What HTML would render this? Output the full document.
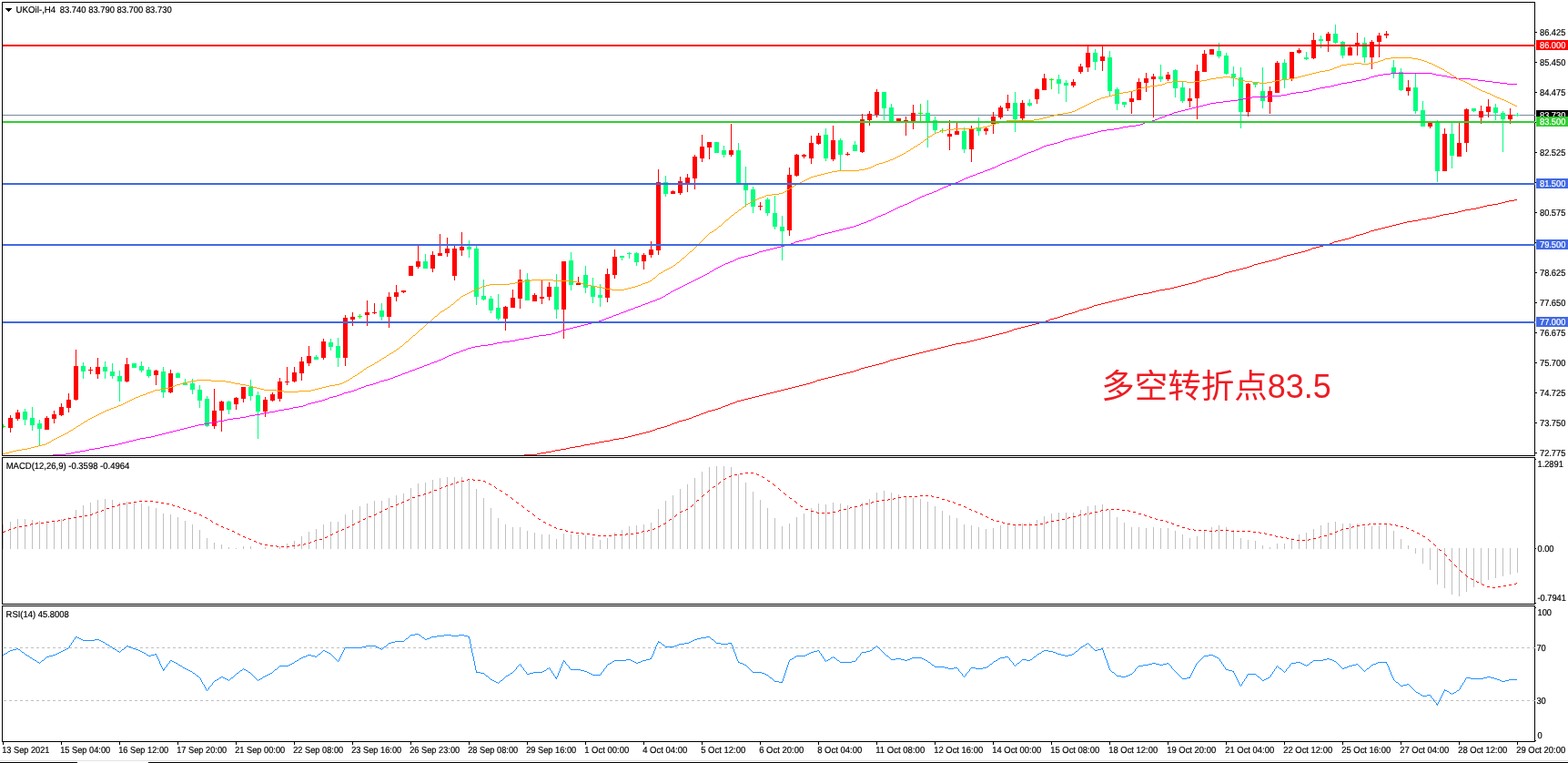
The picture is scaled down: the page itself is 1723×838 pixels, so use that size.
<!DOCTYPE html>
<html lang="zh-CN"><head><meta charset="utf-8"><title>UKOil-,H4</title>
<style>
html,body{margin:0;padding:0;background:#fff;}
body{width:1723px;height:838px;overflow:hidden;position:relative;}
svg{position:absolute;left:0;top:0;display:block;}
text{font-family:"Liberation Sans",sans-serif;font-size:10px;fill:#000;stroke:#000;stroke-width:0.2px;text-rendering:geometricPrecision;}
.w{fill:#fff;stroke:#fff;}
.note{text-rendering:auto;font-family:"Liberation Sans","Noto Sans CJK SC",sans-serif;font-size:36.5px;fill:#ed1c24;font-weight:400;stroke:none;}
</style></head><body>
<svg width="1723" height="838" viewBox="0 0 1723 838">
<rect x="0" y="0" width="1723" height="838" fill="#fff"/>
<defs><clipPath id="cm"><rect x="3" y="3" width="1683" height="497"/></clipPath><clipPath id="c2"><rect x="3" y="503" width="1683" height="160"/></clipPath><clipPath id="c3"><rect x="3" y="666" width="1683" height="148"/></clipPath></defs>
<g shape-rendering="crispEdges">
<rect x="3" y="126" width="1683" height="1" fill="#778899"/>
<g clip-path="url(#cm)">
<rect x="3" y="466" width="1" height="4" fill="#00ff00"/>
<rect x="1" y="468" width="5" height="1" fill="#00ff00"/>
<rect x="11" y="456" width="1" height="19" fill="#ff0000"/>
<rect x="9" y="459" width="5" height="11" fill="#ff0000"/>
<rect x="19" y="450" width="1" height="12" fill="#ff0000"/>
<rect x="17" y="453" width="5" height="7" fill="#ff0000"/>
<rect x="27" y="449" width="1" height="18" fill="#00ff7f"/>
<rect x="25" y="452" width="5" height="9" fill="#00ff7f"/>
<rect x="35" y="447" width="1" height="26" fill="#00ff7f"/>
<rect x="33" y="459" width="5" height="8" fill="#00ff7f"/>
<rect x="43" y="461" width="1" height="28" fill="#00ff7f"/>
<rect x="41" y="465" width="5" height="6" fill="#00ff7f"/>
<rect x="51" y="457" width="1" height="15" fill="#ff0000"/>
<rect x="49" y="459" width="5" height="13" fill="#ff0000"/>
<rect x="59" y="451" width="1" height="14" fill="#ff0000"/>
<rect x="57" y="455" width="5" height="5" fill="#ff0000"/>
<rect x="67" y="443" width="1" height="14" fill="#ff0000"/>
<rect x="65" y="447" width="5" height="9" fill="#ff0000"/>
<rect x="75" y="432" width="1" height="21" fill="#ff0000"/>
<rect x="73" y="439" width="5" height="9" fill="#ff0000"/>
<rect x="83" y="384" width="1" height="56" fill="#ff0000"/>
<rect x="81" y="402" width="5" height="37" fill="#ff0000"/>
<rect x="91" y="398" width="1" height="18" fill="#00ff7f"/>
<rect x="89" y="402" width="5" height="6" fill="#00ff7f"/>
<rect x="99" y="403" width="1" height="8" fill="#ff0000"/>
<rect x="97" y="406" width="5" height="1" fill="#ff0000"/>
<rect x="107" y="393" width="1" height="23" fill="#ff0000"/>
<rect x="105" y="403" width="5" height="8" fill="#ff0000"/>
<rect x="115" y="397" width="1" height="19" fill="#00ff7f"/>
<rect x="113" y="403" width="5" height="5" fill="#00ff7f"/>
<rect x="123" y="399" width="1" height="17" fill="#00ff7f"/>
<rect x="121" y="408" width="5" height="5" fill="#00ff7f"/>
<rect x="131" y="407" width="1" height="34" fill="#00ff7f"/>
<rect x="129" y="413" width="5" height="6" fill="#00ff7f"/>
<rect x="139" y="393" width="1" height="27" fill="#ff0000"/>
<rect x="137" y="400" width="5" height="19" fill="#ff0000"/>
<rect x="147" y="399" width="1" height="5" fill="#00ff7f"/>
<rect x="145" y="399" width="5" height="5" fill="#00ff7f"/>
<rect x="155" y="397" width="1" height="12" fill="#00ff7f"/>
<rect x="153" y="402" width="5" height="5" fill="#00ff7f"/>
<rect x="163" y="403" width="1" height="12" fill="#00ff7f"/>
<rect x="161" y="406" width="5" height="7" fill="#00ff7f"/>
<rect x="171" y="406" width="1" height="17" fill="#ff0000"/>
<rect x="169" y="407" width="5" height="5" fill="#ff0000"/>
<rect x="179" y="403" width="1" height="34" fill="#00ff7f"/>
<rect x="177" y="408" width="5" height="23" fill="#00ff7f"/>
<rect x="187" y="406" width="1" height="26" fill="#ff0000"/>
<rect x="185" y="410" width="5" height="21" fill="#ff0000"/>
<rect x="195" y="409" width="1" height="6" fill="#00ff7f"/>
<rect x="193" y="410" width="5" height="5" fill="#00ff7f"/>
<rect x="203" y="416" width="1" height="7" fill="#00ff7f"/>
<rect x="201" y="420" width="5" height="3" fill="#00ff7f"/>
<rect x="211" y="416" width="1" height="17" fill="#00ff7f"/>
<rect x="209" y="421" width="5" height="7" fill="#00ff7f"/>
<rect x="219" y="423" width="1" height="25" fill="#00ff7f"/>
<rect x="217" y="428" width="5" height="12" fill="#00ff7f"/>
<rect x="227" y="435" width="1" height="34" fill="#00ff7f"/>
<rect x="225" y="438" width="5" height="30" fill="#00ff7f"/>
<rect x="235" y="427" width="1" height="44" fill="#ff0000"/>
<rect x="233" y="451" width="5" height="17" fill="#ff0000"/>
<rect x="243" y="440" width="1" height="34" fill="#ff0000"/>
<rect x="241" y="441" width="5" height="10" fill="#ff0000"/>
<rect x="251" y="440" width="1" height="15" fill="#00ff7f"/>
<rect x="249" y="441" width="5" height="9" fill="#00ff7f"/>
<rect x="259" y="436" width="1" height="14" fill="#ff0000"/>
<rect x="257" y="437" width="5" height="7" fill="#ff0000"/>
<rect x="267" y="425" width="1" height="17" fill="#ff0000"/>
<rect x="265" y="425" width="5" height="13" fill="#ff0000"/>
<rect x="275" y="417" width="1" height="23" fill="#00ff7f"/>
<rect x="273" y="425" width="5" height="10" fill="#00ff7f"/>
<rect x="283" y="430" width="1" height="52" fill="#00ff7f"/>
<rect x="281" y="434" width="5" height="18" fill="#00ff7f"/>
<rect x="291" y="436" width="1" height="22" fill="#ff0000"/>
<rect x="289" y="439" width="5" height="13" fill="#ff0000"/>
<rect x="299" y="431" width="1" height="10" fill="#ff0000"/>
<rect x="297" y="433" width="5" height="7" fill="#ff0000"/>
<rect x="307" y="415" width="1" height="26" fill="#ff0000"/>
<rect x="305" y="419" width="5" height="19" fill="#ff0000"/>
<rect x="315" y="403" width="1" height="20" fill="#ff0000"/>
<rect x="313" y="419" width="5" height="1" fill="#ff0000"/>
<rect x="323" y="403" width="1" height="17" fill="#ff0000"/>
<rect x="321" y="409" width="5" height="10" fill="#ff0000"/>
<rect x="331" y="392" width="1" height="26" fill="#ff0000"/>
<rect x="329" y="397" width="5" height="13" fill="#ff0000"/>
<rect x="339" y="380" width="1" height="22" fill="#ff0000"/>
<rect x="337" y="391" width="5" height="8" fill="#ff0000"/>
<rect x="347" y="390" width="1" height="5" fill="#00ff7f"/>
<rect x="345" y="392" width="5" height="3" fill="#00ff7f"/>
<rect x="355" y="372" width="1" height="23" fill="#ff0000"/>
<rect x="353" y="375" width="5" height="18" fill="#ff0000"/>
<rect x="363" y="372" width="1" height="13" fill="#00ff7f"/>
<rect x="361" y="376" width="5" height="5" fill="#00ff7f"/>
<rect x="371" y="371" width="1" height="32" fill="#00ff7f"/>
<rect x="369" y="380" width="5" height="13" fill="#00ff7f"/>
<rect x="379" y="346" width="1" height="56" fill="#ff0000"/>
<rect x="377" y="349" width="5" height="44" fill="#ff0000"/>
<rect x="387" y="343" width="1" height="15" fill="#ff0000"/>
<rect x="385" y="348" width="5" height="3" fill="#ff0000"/>
<rect x="395" y="345" width="1" height="5" fill="#00ff00"/>
<rect x="393" y="347" width="5" height="1" fill="#00ff00"/>
<rect x="403" y="330" width="1" height="28" fill="#ff0000"/>
<rect x="401" y="343" width="5" height="3" fill="#ff0000"/>
<rect x="411" y="333" width="1" height="12" fill="#ff0000"/>
<rect x="409" y="343" width="5" height="1" fill="#ff0000"/>
<rect x="419" y="333" width="1" height="19" fill="#00ff7f"/>
<rect x="417" y="341" width="5" height="7" fill="#00ff7f"/>
<rect x="427" y="321" width="1" height="39" fill="#ff0000"/>
<rect x="425" y="326" width="5" height="22" fill="#ff0000"/>
<rect x="435" y="313" width="1" height="18" fill="#ff0000"/>
<rect x="433" y="321" width="5" height="5" fill="#ff0000"/>
<rect x="443" y="319" width="1" height="3" fill="#ff0000"/>
<rect x="441" y="319" width="5" height="2" fill="#ff0000"/>
<rect x="451" y="292" width="1" height="11" fill="#ff0000"/>
<rect x="449" y="292" width="5" height="11" fill="#ff0000"/>
<rect x="459" y="270" width="1" height="25" fill="#ff0000"/>
<rect x="457" y="287" width="5" height="6" fill="#ff0000"/>
<rect x="467" y="279" width="1" height="16" fill="#00ff7f"/>
<rect x="465" y="287" width="5" height="8" fill="#00ff7f"/>
<rect x="475" y="276" width="1" height="23" fill="#ff0000"/>
<rect x="473" y="280" width="5" height="15" fill="#ff0000"/>
<rect x="483" y="257" width="1" height="24" fill="#ff0000"/>
<rect x="481" y="278" width="5" height="3" fill="#ff0000"/>
<rect x="491" y="261" width="1" height="21" fill="#ff0000"/>
<rect x="489" y="273" width="5" height="5" fill="#ff0000"/>
<rect x="499" y="270" width="1" height="38" fill="#ff0000"/>
<rect x="497" y="273" width="5" height="30" fill="#ff0000"/>
<rect x="507" y="255" width="1" height="26" fill="#ff0000"/>
<rect x="505" y="271" width="5" height="4" fill="#ff0000"/>
<rect x="515" y="264" width="1" height="19" fill="#00ff7f"/>
<rect x="513" y="271" width="5" height="3" fill="#00ff7f"/>
<rect x="523" y="270" width="1" height="65" fill="#00ff7f"/>
<rect x="521" y="273" width="5" height="53" fill="#00ff7f"/>
<rect x="531" y="307" width="1" height="23" fill="#00ff7f"/>
<rect x="529" y="325" width="5" height="4" fill="#00ff7f"/>
<rect x="539" y="325" width="1" height="19" fill="#00ff7f"/>
<rect x="537" y="328" width="5" height="13" fill="#00ff7f"/>
<rect x="547" y="323" width="1" height="29" fill="#00ff7f"/>
<rect x="545" y="338" width="5" height="12" fill="#00ff7f"/>
<rect x="555" y="336" width="1" height="27" fill="#ff0000"/>
<rect x="553" y="337" width="5" height="13" fill="#ff0000"/>
<rect x="563" y="318" width="1" height="20" fill="#ff0000"/>
<rect x="561" y="327" width="5" height="11" fill="#ff0000"/>
<rect x="571" y="296" width="1" height="43" fill="#ff0000"/>
<rect x="569" y="307" width="5" height="21" fill="#ff0000"/>
<rect x="579" y="300" width="1" height="30" fill="#00ff7f"/>
<rect x="577" y="307" width="5" height="23" fill="#00ff7f"/>
<rect x="587" y="322" width="1" height="9" fill="#ff0000"/>
<rect x="585" y="324" width="5" height="7" fill="#ff0000"/>
<rect x="595" y="308" width="1" height="26" fill="#ff0000"/>
<rect x="593" y="326" width="5" height="2" fill="#ff0000"/>
<rect x="603" y="310" width="1" height="20" fill="#ff0000"/>
<rect x="601" y="315" width="5" height="11" fill="#ff0000"/>
<rect x="611" y="301" width="1" height="49" fill="#00ff7f"/>
<rect x="609" y="315" width="5" height="25" fill="#00ff7f"/>
<rect x="619" y="287" width="1" height="85" fill="#ff0000"/>
<rect x="617" y="287" width="5" height="53" fill="#ff0000"/>
<rect x="627" y="277" width="1" height="42" fill="#00ff7f"/>
<rect x="625" y="286" width="5" height="27" fill="#00ff7f"/>
<rect x="635" y="304" width="1" height="9" fill="#ff0000"/>
<rect x="633" y="311" width="5" height="2" fill="#ff0000"/>
<rect x="643" y="292" width="1" height="30" fill="#00ff7f"/>
<rect x="641" y="302" width="5" height="14" fill="#00ff7f"/>
<rect x="651" y="305" width="1" height="28" fill="#00ff7f"/>
<rect x="649" y="314" width="5" height="12" fill="#00ff7f"/>
<rect x="659" y="312" width="1" height="25" fill="#00ff7f"/>
<rect x="657" y="324" width="5" height="3" fill="#00ff7f"/>
<rect x="667" y="295" width="1" height="37" fill="#ff0000"/>
<rect x="665" y="301" width="5" height="26" fill="#ff0000"/>
<rect x="675" y="274" width="1" height="32" fill="#ff0000"/>
<rect x="673" y="282" width="5" height="20" fill="#ff0000"/>
<rect x="683" y="281" width="1" height="5" fill="#00ff7f"/>
<rect x="681" y="281" width="5" height="2" fill="#00ff7f"/>
<rect x="691" y="277" width="1" height="7" fill="#00ff7f"/>
<rect x="689" y="278" width="5" height="1" fill="#00ff7f"/>
<rect x="699" y="277" width="1" height="15" fill="#00ff7f"/>
<rect x="697" y="278" width="5" height="10" fill="#00ff7f"/>
<rect x="707" y="278" width="1" height="18" fill="#ff0000"/>
<rect x="705" y="280" width="5" height="7" fill="#ff0000"/>
<rect x="715" y="265" width="1" height="18" fill="#ff0000"/>
<rect x="713" y="274" width="5" height="6" fill="#ff0000"/>
<rect x="723" y="186" width="1" height="94" fill="#ff0000"/>
<rect x="721" y="200" width="5" height="75" fill="#ff0000"/>
<rect x="731" y="193" width="1" height="23" fill="#00ff7f"/>
<rect x="729" y="200" width="5" height="13" fill="#00ff7f"/>
<rect x="739" y="209" width="1" height="4" fill="#ff0000"/>
<rect x="737" y="210" width="5" height="3" fill="#ff0000"/>
<rect x="747" y="194" width="1" height="20" fill="#ff0000"/>
<rect x="745" y="199" width="5" height="13" fill="#ff0000"/>
<rect x="755" y="191" width="1" height="20" fill="#ff0000"/>
<rect x="753" y="195" width="5" height="6" fill="#ff0000"/>
<rect x="763" y="170" width="1" height="38" fill="#ff0000"/>
<rect x="761" y="172" width="5" height="24" fill="#ff0000"/>
<rect x="771" y="148" width="1" height="30" fill="#ff0000"/>
<rect x="769" y="161" width="5" height="13" fill="#ff0000"/>
<rect x="779" y="156" width="1" height="19" fill="#ff0000"/>
<rect x="777" y="156" width="5" height="6" fill="#ff0000"/>
<rect x="787" y="156" width="1" height="12" fill="#00ff7f"/>
<rect x="785" y="156" width="5" height="12" fill="#00ff7f"/>
<rect x="795" y="160" width="1" height="13" fill="#00ff7f"/>
<rect x="793" y="165" width="5" height="5" fill="#00ff7f"/>
<rect x="803" y="136" width="1" height="36" fill="#ff0000"/>
<rect x="801" y="165" width="5" height="5" fill="#ff0000"/>
<rect x="811" y="157" width="1" height="44" fill="#00ff7f"/>
<rect x="809" y="165" width="5" height="36" fill="#00ff7f"/>
<rect x="819" y="183" width="1" height="44" fill="#00ff7f"/>
<rect x="817" y="203" width="5" height="6" fill="#00ff7f"/>
<rect x="827" y="205" width="1" height="29" fill="#00ff7f"/>
<rect x="825" y="208" width="5" height="19" fill="#00ff7f"/>
<rect x="835" y="222" width="1" height="9" fill="#ff0000"/>
<rect x="833" y="226" width="5" height="1" fill="#ff0000"/>
<rect x="843" y="217" width="1" height="20" fill="#00ff7f"/>
<rect x="841" y="219" width="5" height="15" fill="#00ff7f"/>
<rect x="851" y="215" width="1" height="37" fill="#00ff7f"/>
<rect x="849" y="234" width="5" height="15" fill="#00ff7f"/>
<rect x="859" y="237" width="1" height="49" fill="#00ff7f"/>
<rect x="857" y="249" width="5" height="5" fill="#00ff7f"/>
<rect x="867" y="184" width="1" height="75" fill="#ff0000"/>
<rect x="865" y="192" width="5" height="61" fill="#ff0000"/>
<rect x="875" y="169" width="1" height="25" fill="#ff0000"/>
<rect x="873" y="170" width="5" height="23" fill="#ff0000"/>
<rect x="883" y="169" width="1" height="5" fill="#ff0000"/>
<rect x="881" y="170" width="5" height="2" fill="#ff0000"/>
<rect x="891" y="149" width="1" height="31" fill="#ff0000"/>
<rect x="889" y="157" width="5" height="17" fill="#ff0000"/>
<rect x="899" y="146" width="1" height="13" fill="#ff0000"/>
<rect x="897" y="149" width="5" height="9" fill="#ff0000"/>
<rect x="907" y="141" width="1" height="36" fill="#00ff7f"/>
<rect x="905" y="148" width="5" height="26" fill="#00ff7f"/>
<rect x="915" y="138" width="1" height="39" fill="#ff0000"/>
<rect x="913" y="154" width="5" height="21" fill="#ff0000"/>
<rect x="923" y="152" width="1" height="35" fill="#00ff7f"/>
<rect x="921" y="154" width="5" height="16" fill="#00ff7f"/>
<rect x="931" y="167" width="1" height="4" fill="#ff0000"/>
<rect x="929" y="169" width="5" height="1" fill="#ff0000"/>
<rect x="939" y="155" width="1" height="11" fill="#00ff7f"/>
<rect x="937" y="159" width="5" height="7" fill="#00ff7f"/>
<rect x="947" y="125" width="1" height="43" fill="#ff0000"/>
<rect x="945" y="131" width="5" height="36" fill="#ff0000"/>
<rect x="955" y="122" width="1" height="16" fill="#ff0000"/>
<rect x="953" y="125" width="5" height="7" fill="#ff0000"/>
<rect x="963" y="98" width="1" height="31" fill="#ff0000"/>
<rect x="961" y="101" width="5" height="25" fill="#ff0000"/>
<rect x="971" y="101" width="1" height="31" fill="#00ff7f"/>
<rect x="969" y="101" width="5" height="18" fill="#00ff7f"/>
<rect x="979" y="114" width="1" height="19" fill="#00ff7f"/>
<rect x="977" y="118" width="5" height="15" fill="#00ff7f"/>
<rect x="987" y="130" width="1" height="3" fill="#ff0000"/>
<rect x="985" y="130" width="5" height="3" fill="#ff0000"/>
<rect x="995" y="128" width="1" height="21" fill="#ff0000"/>
<rect x="993" y="132" width="5" height="1" fill="#ff0000"/>
<rect x="1003" y="115" width="1" height="27" fill="#ff0000"/>
<rect x="1001" y="124" width="5" height="9" fill="#ff0000"/>
<rect x="1011" y="114" width="1" height="19" fill="#00ff00"/>
<rect x="1009" y="124" width="5" height="1" fill="#00ff00"/>
<rect x="1019" y="110" width="1" height="52" fill="#00ff7f"/>
<rect x="1017" y="124" width="5" height="9" fill="#00ff7f"/>
<rect x="1027" y="128" width="1" height="18" fill="#00ff7f"/>
<rect x="1025" y="132" width="5" height="11" fill="#00ff7f"/>
<rect x="1035" y="141" width="1" height="5" fill="#00ff00"/>
<rect x="1033" y="143" width="5" height="1" fill="#00ff00"/>
<rect x="1043" y="132" width="1" height="33" fill="#ff0000"/>
<rect x="1041" y="147" width="5" height="3" fill="#ff0000"/>
<rect x="1051" y="135" width="1" height="13" fill="#ff0000"/>
<rect x="1049" y="144" width="5" height="4" fill="#ff0000"/>
<rect x="1059" y="140" width="1" height="28" fill="#00ff7f"/>
<rect x="1057" y="144" width="5" height="20" fill="#00ff7f"/>
<rect x="1067" y="138" width="1" height="40" fill="#ff0000"/>
<rect x="1065" y="141" width="5" height="23" fill="#ff0000"/>
<rect x="1075" y="129" width="1" height="20" fill="#00ff7f"/>
<rect x="1073" y="140" width="5" height="4" fill="#00ff7f"/>
<rect x="1083" y="140" width="1" height="8" fill="#ff0000"/>
<rect x="1081" y="141" width="5" height="3" fill="#ff0000"/>
<rect x="1091" y="123" width="1" height="24" fill="#ff0000"/>
<rect x="1089" y="128" width="5" height="8" fill="#ff0000"/>
<rect x="1099" y="116" width="1" height="15" fill="#ff0000"/>
<rect x="1097" y="118" width="5" height="11" fill="#ff0000"/>
<rect x="1107" y="104" width="1" height="18" fill="#ff0000"/>
<rect x="1105" y="113" width="5" height="6" fill="#ff0000"/>
<rect x="1115" y="101" width="1" height="44" fill="#00ff7f"/>
<rect x="1113" y="113" width="5" height="18" fill="#00ff7f"/>
<rect x="1123" y="110" width="1" height="23" fill="#ff0000"/>
<rect x="1121" y="113" width="5" height="17" fill="#ff0000"/>
<rect x="1131" y="109" width="1" height="8" fill="#00ff7f"/>
<rect x="1129" y="113" width="5" height="3" fill="#00ff7f"/>
<rect x="1139" y="97" width="1" height="17" fill="#ff0000"/>
<rect x="1137" y="98" width="5" height="11" fill="#ff0000"/>
<rect x="1147" y="81" width="1" height="18" fill="#ff0000"/>
<rect x="1145" y="86" width="5" height="13" fill="#ff0000"/>
<rect x="1155" y="86" width="1" height="12" fill="#00ff00"/>
<rect x="1153" y="87" width="5" height="1" fill="#00ff00"/>
<rect x="1163" y="82" width="1" height="21" fill="#00ff7f"/>
<rect x="1161" y="87" width="5" height="5" fill="#00ff7f"/>
<rect x="1171" y="88" width="1" height="24" fill="#00ff7f"/>
<rect x="1169" y="91" width="5" height="3" fill="#00ff7f"/>
<rect x="1179" y="87" width="1" height="9" fill="#ff0000"/>
<rect x="1177" y="90" width="5" height="4" fill="#ff0000"/>
<rect x="1187" y="70" width="1" height="11" fill="#ff0000"/>
<rect x="1185" y="73" width="5" height="6" fill="#ff0000"/>
<rect x="1195" y="51" width="1" height="28" fill="#ff0000"/>
<rect x="1193" y="58" width="5" height="16" fill="#ff0000"/>
<rect x="1203" y="54" width="1" height="23" fill="#00ff7f"/>
<rect x="1201" y="58" width="5" height="10" fill="#00ff7f"/>
<rect x="1211" y="51" width="1" height="27" fill="#ff0000"/>
<rect x="1209" y="62" width="5" height="5" fill="#ff0000"/>
<rect x="1219" y="56" width="1" height="49" fill="#00ff7f"/>
<rect x="1217" y="63" width="5" height="37" fill="#00ff7f"/>
<rect x="1227" y="96" width="1" height="25" fill="#00ff7f"/>
<rect x="1225" y="98" width="5" height="16" fill="#00ff7f"/>
<rect x="1235" y="112" width="1" height="6" fill="#00ff7f"/>
<rect x="1233" y="112" width="5" height="3" fill="#00ff7f"/>
<rect x="1243" y="100" width="1" height="25" fill="#ff0000"/>
<rect x="1241" y="108" width="5" height="4" fill="#ff0000"/>
<rect x="1251" y="86" width="1" height="24" fill="#ff0000"/>
<rect x="1249" y="90" width="5" height="20" fill="#ff0000"/>
<rect x="1259" y="80" width="1" height="21" fill="#ff0000"/>
<rect x="1257" y="86" width="5" height="5" fill="#ff0000"/>
<rect x="1267" y="81" width="1" height="48" fill="#ff0000"/>
<rect x="1265" y="84" width="5" height="3" fill="#ff0000"/>
<rect x="1275" y="71" width="1" height="19" fill="#00ff7f"/>
<rect x="1273" y="84" width="5" height="3" fill="#00ff7f"/>
<rect x="1283" y="79" width="1" height="10" fill="#ff0000"/>
<rect x="1281" y="82" width="5" height="5" fill="#ff0000"/>
<rect x="1291" y="76" width="1" height="31" fill="#00ff7f"/>
<rect x="1289" y="77" width="5" height="20" fill="#00ff7f"/>
<rect x="1299" y="90" width="1" height="23" fill="#00ff7f"/>
<rect x="1297" y="96" width="5" height="15" fill="#00ff7f"/>
<rect x="1307" y="97" width="1" height="21" fill="#ff0000"/>
<rect x="1305" y="108" width="5" height="3" fill="#ff0000"/>
<rect x="1315" y="71" width="1" height="60" fill="#ff0000"/>
<rect x="1313" y="78" width="5" height="30" fill="#ff0000"/>
<rect x="1323" y="55" width="1" height="24" fill="#ff0000"/>
<rect x="1321" y="59" width="5" height="20" fill="#ff0000"/>
<rect x="1331" y="54" width="1" height="6" fill="#ff0000"/>
<rect x="1329" y="54" width="5" height="6" fill="#ff0000"/>
<rect x="1339" y="47" width="1" height="17" fill="#00ff7f"/>
<rect x="1337" y="56" width="5" height="6" fill="#00ff7f"/>
<rect x="1347" y="58" width="1" height="24" fill="#00ff7f"/>
<rect x="1345" y="61" width="5" height="20" fill="#00ff7f"/>
<rect x="1355" y="73" width="1" height="22" fill="#00ff7f"/>
<rect x="1353" y="81" width="5" height="4" fill="#00ff7f"/>
<rect x="1363" y="74" width="1" height="67" fill="#00ff7f"/>
<rect x="1361" y="85" width="5" height="38" fill="#00ff7f"/>
<rect x="1371" y="91" width="1" height="37" fill="#ff0000"/>
<rect x="1369" y="92" width="5" height="31" fill="#ff0000"/>
<rect x="1379" y="91" width="1" height="5" fill="#00ff7f"/>
<rect x="1377" y="91" width="5" height="2" fill="#00ff7f"/>
<rect x="1387" y="74" width="1" height="45" fill="#00ff7f"/>
<rect x="1385" y="100" width="5" height="11" fill="#00ff7f"/>
<rect x="1395" y="95" width="1" height="30" fill="#ff0000"/>
<rect x="1393" y="100" width="5" height="12" fill="#ff0000"/>
<rect x="1403" y="67" width="1" height="35" fill="#ff0000"/>
<rect x="1401" y="69" width="5" height="33" fill="#ff0000"/>
<rect x="1411" y="65" width="1" height="32" fill="#00ff7f"/>
<rect x="1409" y="69" width="5" height="18" fill="#00ff7f"/>
<rect x="1419" y="57" width="1" height="32" fill="#ff0000"/>
<rect x="1417" y="57" width="5" height="29" fill="#ff0000"/>
<rect x="1427" y="53" width="1" height="6" fill="#ff0000"/>
<rect x="1425" y="55" width="5" height="3" fill="#ff0000"/>
<rect x="1435" y="57" width="1" height="9" fill="#00ff7f"/>
<rect x="1433" y="63" width="5" height="2" fill="#00ff7f"/>
<rect x="1443" y="36" width="1" height="29" fill="#ff0000"/>
<rect x="1441" y="44" width="5" height="20" fill="#ff0000"/>
<rect x="1451" y="39" width="1" height="14" fill="#00ff7f"/>
<rect x="1449" y="43" width="5" height="2" fill="#00ff7f"/>
<rect x="1459" y="35" width="1" height="22" fill="#ff0000"/>
<rect x="1457" y="37" width="5" height="8" fill="#ff0000"/>
<rect x="1467" y="27" width="1" height="21" fill="#00ff7f"/>
<rect x="1465" y="37" width="5" height="10" fill="#00ff7f"/>
<rect x="1475" y="45" width="1" height="19" fill="#00ff7f"/>
<rect x="1473" y="46" width="5" height="15" fill="#00ff7f"/>
<rect x="1483" y="51" width="1" height="10" fill="#ff0000"/>
<rect x="1481" y="52" width="5" height="9" fill="#ff0000"/>
<rect x="1491" y="36" width="1" height="25" fill="#ff0000"/>
<rect x="1489" y="47" width="5" height="3" fill="#ff0000"/>
<rect x="1499" y="41" width="1" height="28" fill="#00ff7f"/>
<rect x="1497" y="47" width="5" height="16" fill="#00ff7f"/>
<rect x="1507" y="44" width="1" height="32" fill="#ff0000"/>
<rect x="1505" y="46" width="5" height="17" fill="#ff0000"/>
<rect x="1515" y="36" width="1" height="27" fill="#ff0000"/>
<rect x="1513" y="39" width="5" height="7" fill="#ff0000"/>
<rect x="1523" y="34" width="1" height="8" fill="#ff0000"/>
<rect x="1521" y="37" width="5" height="2" fill="#ff0000"/>
<rect x="1531" y="66" width="1" height="20" fill="#00ff7f"/>
<rect x="1529" y="74" width="5" height="6" fill="#00ff7f"/>
<rect x="1539" y="75" width="1" height="25" fill="#00ff7f"/>
<rect x="1537" y="79" width="5" height="20" fill="#00ff7f"/>
<rect x="1547" y="88" width="1" height="17" fill="#ff0000"/>
<rect x="1545" y="96" width="5" height="4" fill="#ff0000"/>
<rect x="1555" y="81" width="1" height="44" fill="#00ff7f"/>
<rect x="1553" y="96" width="5" height="26" fill="#00ff7f"/>
<rect x="1563" y="111" width="1" height="28" fill="#00ff7f"/>
<rect x="1561" y="121" width="5" height="18" fill="#00ff7f"/>
<rect x="1571" y="135" width="1" height="6" fill="#ff0000"/>
<rect x="1569" y="135" width="5" height="4" fill="#ff0000"/>
<rect x="1579" y="132" width="1" height="68" fill="#00ff7f"/>
<rect x="1577" y="135" width="5" height="53" fill="#00ff7f"/>
<rect x="1587" y="141" width="1" height="47" fill="#ff0000"/>
<rect x="1585" y="147" width="5" height="41" fill="#ff0000"/>
<rect x="1595" y="135" width="1" height="50" fill="#00ff7f"/>
<rect x="1593" y="147" width="5" height="24" fill="#00ff7f"/>
<rect x="1603" y="135" width="1" height="37" fill="#ff0000"/>
<rect x="1601" y="157" width="5" height="15" fill="#ff0000"/>
<rect x="1611" y="119" width="1" height="48" fill="#ff0000"/>
<rect x="1609" y="120" width="5" height="37" fill="#ff0000"/>
<rect x="1619" y="119" width="1" height="4" fill="#00ff7f"/>
<rect x="1617" y="119" width="5" height="3" fill="#00ff7f"/>
<rect x="1627" y="116" width="1" height="20" fill="#ff0000"/>
<rect x="1625" y="122" width="5" height="7" fill="#ff0000"/>
<rect x="1635" y="109" width="1" height="20" fill="#ff0000"/>
<rect x="1633" y="117" width="5" height="6" fill="#ff0000"/>
<rect x="1643" y="114" width="1" height="18" fill="#00ff7f"/>
<rect x="1641" y="118" width="5" height="6" fill="#00ff7f"/>
<rect x="1651" y="122" width="1" height="45" fill="#00ff7f"/>
<rect x="1649" y="124" width="5" height="7" fill="#00ff7f"/>
<rect x="1659" y="119" width="1" height="17" fill="#ff0000"/>
<rect x="1657" y="126" width="5" height="5" fill="#ff0000"/>
<rect x="1667" y="124" width="1" height="4" fill="#00ff7f"/>
<rect x="1665" y="126" width="5" height="1" fill="#00ff7f"/>
</g>
<g clip-path="url(#cm)">
<path d="M563 501.5h5M568 500.5h8M576 499.5h14M590 498.5h4M594 497.5h6M600 496.5h6M606 495.5h4M610 494.5h6M616 493.5h6M622 492.5h4M626 491.5h6M632 490.5h6M638 489.5h4M642 488.5h6M648 487.5h6M654 486.5h4M658 485.5h6M664 484.5h6M670 483.5h4M674 482.5h6M680 481.5h6M686 480.5h4M690 479.5h4M694 478.5h4M698 477.5h4M702 476.5h4M706 475.5h4M710 474.5h4M714 473.5h3M717 472.5h3M720 471.5h2M722 470.5h4M726 469.5h4M730 468.5h3M733 467.5h3M736 466.5h2M738 465.5h3M741 464.5h3M744 463.5h2M746 462.5h4M750 461.5h4M754 460.5h3M757 459.5h3M760 458.5h2M762 457.5h3M765 456.5h3M768 455.5h2M770 454.5h3M773 453.5h3M776 452.5h2M778 451.5h4M782 450.5h4M786 449.5h3M789 448.5h3M792 447.5h2M794 446.5h3M797 445.5h3M800 444.5h2M802 443.5h3M805 442.5h3M808 441.5h2M810 440.5h4M814 439.5h4M818 438.5h4M822 437.5h4M826 436.5h4M830 435.5h4M834 434.5h4M838 433.5h4M842 432.5h4M846 431.5h4M850 430.5h4M854 429.5h4M858 428.5h4M862 427.5h4M866 426.5h4M870 425.5h4M874 424.5h4M878 423.5h4M882 422.5h4M886 421.5h4M890 420.5h3M893 419.5h3M896 418.5h2M898 417.5h4M902 416.5h4M906 415.5h4M910 414.5h4M914 413.5h4M918 412.5h4M922 411.5h4M926 410.5h4M930 409.5h4M934 408.5h4M938 407.5h3M941 406.5h3M944 405.5h2M946 404.5h4M950 403.5h4M954 402.5h4M958 401.5h4M962 400.5h4M966 399.5h4M970 398.5h3M973 397.5h3M976 396.5h2M978 395.5h4M982 394.5h4M986 393.5h4M990 392.5h4M994 391.5h4M998 390.5h4M1002 389.5h4M1006 388.5h4M1010 387.5h4M1014 386.5h4M1018 385.5h4M1022 384.5h4M1026 383.5h4M1030 382.5h4M1034 381.5h4M1038 380.5h4M1042 379.5h4M1046 378.5h4M1050 377.5h6M1056 376.5h6M1062 375.5h4M1066 374.5h4M1070 373.5h4M1074 372.5h4M1078 371.5h4M1082 370.5h4M1086 369.5h4M1090 368.5h4M1094 367.5h4M1098 366.5h4M1102 365.5h4M1106 364.5h3M1109 363.5h3M1112 362.5h2M1114 361.5h4M1118 360.5h4M1122 359.5h4M1126 358.5h4M1130 357.5h4M1134 356.5h4M1138 355.5h4M1142 354.5h4M1146 353.5h3M1149 352.5h3M1152 351.5h2M1154 350.5h4M1158 349.5h4M1162 348.5h3M1165 347.5h3M1168 346.5h2M1170 345.5h4M1174 344.5h4M1178 343.5h3M1181 342.5h3M1184 341.5h2M1186 340.5h4M1190 339.5h4M1194 338.5h3M1197 337.5h3M1200 336.5h2M1202 335.5h4M1206 334.5h4M1210 333.5h4M1214 332.5h4M1218 331.5h4M1222 330.5h4M1226 329.5h4M1230 328.5h4M1234 327.5h4M1238 326.5h4M1242 325.5h4M1246 324.5h4M1250 323.5h6M1256 322.5h6M1262 321.5h4M1266 320.5h4M1270 319.5h4M1274 318.5h6M1280 317.5h6M1286 316.5h4M1290 315.5h4M1294 314.5h4M1298 313.5h4M1302 312.5h4M1306 311.5h4M1310 310.5h4M1314 309.5h3M1317 308.5h3M1320 307.5h2M1322 306.5h4M1326 305.5h4M1330 304.5h4M1334 303.5h4M1338 302.5h3M1341 301.5h3M1344 300.5h2M1346 299.5h4M1350 298.5h4M1354 297.5h4M1358 296.5h4M1362 295.5h4M1366 294.5h4M1370 293.5h3M1373 292.5h3M1376 291.5h2M1378 290.5h4M1382 289.5h4M1386 288.5h4M1390 287.5h4M1394 286.5h4M1398 285.5h4M1402 284.5h3M1405 283.5h3M1408 282.5h2M1410 281.5h4M1414 280.5h4M1418 279.5h4M1422 278.5h4M1426 277.5h4M1430 276.5h4M1434 275.5h3M1437 274.5h3M1440 273.5h2M1442 272.5h4M1446 271.5h4M1450 270.5h4M1454 269.5h4M1458 268.5h3M1461 267.5h3M1464 266.5h2M1466 265.5h4M1470 264.5h4M1474 263.5h4M1478 262.5h4M1482 261.5h3M1485 260.5h3M1488 259.5h2M1490 258.5h4M1494 257.5h4M1498 256.5h3M1501 255.5h3M1504 254.5h2M1506 253.5h4M1510 252.5h4M1514 251.5h4M1518 250.5h4M1522 249.5h4M1526 248.5h4M1530 247.5h4M1534 246.5h4M1538 245.5h4M1542 244.5h4M1546 243.5h6M1552 242.5h6M1558 241.5h4M1562 240.5h6M1568 239.5h6M1574 238.5h4M1578 237.5h4M1582 236.5h4M1586 235.5h6M1592 234.5h6M1598 233.5h4M1602 232.5h4M1606 231.5h4M1610 230.5h6M1616 229.5h6M1622 228.5h4M1626 227.5h4M1630 226.5h4M1634 225.5h6M1640 224.5h6M1646 223.5h4M1650 222.5h4M1654 221.5h4M1658 220.5h6M1664 219.5h3" fill="none" stroke="#ff0000" stroke-width="1"/>
<path d="M3 511.5h3M6 510.5h4M10 509.5h4M14 508.5h4M18 507.5h6M24 506.5h6M30 505.5h4M34 504.5h4M38 503.5h4M42 502.5h6M48 501.5h6M54 500.5h4M58 499.5h14M72 498.5h6M78 497.5h4M82 496.5h6M88 495.5h6M94 494.5h4M98 493.5h6M104 492.5h6M110 491.5h4M114 490.5h6M120 489.5h6M126 488.5h4M130 487.5h4M134 486.5h4M138 485.5h4M142 484.5h4M146 483.5h4M150 482.5h4M154 481.5h6M160 480.5h6M166 479.5h4M170 478.5h4M174 477.5h4M178 476.5h4M182 475.5h4M186 474.5h4M190 473.5h4M194 472.5h4M198 471.5h4M202 470.5h4M206 469.5h4M210 468.5h4M214 467.5h4M218 466.5h6M224 465.5h6M230 464.5h4M234 463.5h6M240 462.5h6M246 461.5h4M250 460.5h6M256 459.5h8M264 458.5h6M270 457.5h4M274 456.5h6M280 455.5h6M286 454.5h4M290 453.5h6M296 452.5h6M302 451.5h4M306 450.5h6M312 449.5h6M318 448.5h4M322 447.5h6M328 446.5h5M333 445.5h3M336 444.5h2M338 443.5h4M342 442.5h4M346 441.5h4M350 440.5h4M354 439.5h3M357 438.5h3M360 437.5h2M362 436.5h4M366 435.5h4M370 434.5h3M373 433.5h3M376 432.5h2M378 431.5h4M382 430.5h4M386 429.5h3M389 428.5h3M392 427.5h2M394 426.5h3M397 425.5h3M400 424.5h2M402 423.5h4M406 422.5h4M410 421.5h3M413 420.5h3M416 419.5h2M418 418.5h4M422 417.5h4M426 416.5h3M429 415.5h3M432 414.5h2M434 413.5h3M437 412.5h3M440 411.5h2M442 410.5h3M445 409.5h3M448 408.5h2M450 407.5h3M453 406.5h3M456 405.5h2M458 404.5h3M461 403.5h3M464 402.5h2M466 401.5h3M469 400.5h3M472 399.5h2M474 398.5h3M477 397.5h3M480 396.5h2M482 395.5h3M485 394.5h2M487 393.5h2M489 392.5h2M491 391.5h2M493 390.5h3M496 389.5h2M498 388.5h3M501 387.5h3M504 386.5h2M506 385.5h3M509 384.5h3M512 383.5h2M514 382.5h4M518 381.5h4M522 380.5h6M528 379.5h8M536 378.5h6M542 377.5h4M546 376.5h6M552 375.5h8M560 374.5h6M566 373.5h4M570 372.5h6M576 371.5h6M582 370.5h4M586 369.5h6M592 368.5h8M600 367.5h6M606 366.5h4M610 365.5h3M613 364.5h3M616 363.5h2M618 362.5h4M622 361.5h4M626 360.5h4M630 359.5h4M634 358.5h4M638 357.5h4M642 356.5h4M646 355.5h4M650 354.5h4M654 353.5h4M658 352.5h3M661 351.5h3M664 350.5h2M666 349.5h3M669 348.5h3M672 347.5h2M674 346.5h3M677 345.5h3M680 344.5h2M682 343.5h3M685 342.5h3M688 341.5h2M690 340.5h3M693 339.5h3M696 338.5h2M698 337.5h3M701 336.5h3M704 335.5h2M706 334.5h3M709 333.5h3M712 332.5h2M714 331.5h3M717 330.5h3M720 329.5h2M722 328.5h3M725 327.5h2M727 326.5h2M729 325.5h2M731 324.5h1M732 323.5h2M734 322.5h2M736 321.5h1M737 320.5h2M739 319.5h2M741 318.5h2M743 317.5h2M745 316.5h2M747 315.5h2M749 314.5h2M751 313.5h2M753 312.5h2M755 311.5h2M757 310.5h2M759 309.5h2M761 308.5h2M763 307.5h2M765 306.5h2M767 305.5h2M769 304.5h2M771 303.5h2M773 302.5h2M775 301.5h2M777 300.5h2M779 299.5h1M780 298.5h2M782 297.5h2M784 296.5h1M785 295.5h2M787 294.5h2M789 293.5h2M791 292.5h2M793 291.5h2M795 290.5h2M797 289.5h3M800 288.5h2M802 287.5h3M805 286.5h2M807 285.5h2M809 284.5h2M811 283.5h3M814 282.5h4M818 281.5h4M822 280.5h4M826 279.5h3M829 278.5h3M832 277.5h2M834 276.5h4M838 275.5h4M842 274.5h4M846 273.5h4M850 272.5h4M854 271.5h4M858 270.5h4M862 269.5h4M866 268.5h3M869 267.5h3M872 266.5h2M874 265.5h4M878 264.5h4M882 263.5h4M886 262.5h4M890 261.5h3M893 260.5h3M896 259.5h2M898 258.5h4M902 257.5h4M906 256.5h4M910 255.5h4M914 254.5h4M918 253.5h4M922 252.5h4M926 251.5h4M930 250.5h4M934 249.5h4M938 248.5h3M941 247.5h3M944 246.5h2M946 245.5h3M949 244.5h3M952 243.5h2M954 242.5h3M957 241.5h2M959 240.5h2M961 239.5h2M963 238.5h2M965 237.5h3M968 236.5h2M970 235.5h3M973 234.5h2M975 233.5h2M977 232.5h2M979 231.5h2M981 230.5h2M983 229.5h2M985 228.5h2M987 227.5h2M989 226.5h3M992 225.5h2M994 224.5h3M997 223.5h2M999 222.5h2M1001 221.5h2M1003 220.5h2M1005 219.5h2M1007 218.5h2M1009 217.5h2M1011 216.5h2M1013 215.5h3M1016 214.5h2M1018 213.5h3M1021 212.5h3M1024 211.5h2M1026 210.5h3M1029 209.5h2M1031 208.5h2M1033 207.5h2M1035 206.5h2M1037 205.5h3M1040 204.5h2M1042 203.5h3M1045 202.5h3M1048 201.5h2M1050 200.5h3M1053 199.5h2M1055 198.5h2M1057 197.5h2M1059 196.5h2M1061 195.5h3M1064 194.5h2M1066 193.5h3M1069 192.5h3M1072 191.5h2M1074 190.5h3M1077 189.5h3M1080 188.5h2M1082 187.5h3M1085 186.5h3M1088 185.5h2M1090 184.5h3M1093 183.5h2M1095 182.5h2M1097 181.5h2M1099 180.5h2M1101 179.5h3M1104 178.5h2M1106 177.5h3M1109 176.5h3M1112 175.5h2M1114 174.5h3M1117 173.5h2M1119 172.5h2M1121 171.5h2M1123 170.5h2M1125 169.5h3M1128 168.5h2M1130 167.5h3M1133 166.5h3M1136 165.5h2M1138 164.5h3M1141 163.5h2M1143 162.5h2M1145 161.5h2M1147 160.5h3M1150 159.5h4M1154 158.5h4M1158 157.5h4M1162 156.5h3M1165 155.5h3M1168 154.5h2M1170 153.5h4M1174 152.5h4M1178 151.5h4M1182 150.5h4M1186 149.5h4M1190 148.5h4M1194 147.5h4M1198 146.5h4M1202 145.5h4M1206 144.5h4M1210 143.5h6M1216 142.5h8M1224 141.5h6M1230 140.5h4M1234 139.5h6M1240 138.5h8M1248 137.5h5M1253 136.5h3M1256 135.5h2M1258 134.5h4M1262 133.5h4M1266 132.5h3M1269 131.5h3M1272 130.5h2M1274 129.5h3M1277 128.5h3M1280 127.5h2M1282 126.5h3M1285 125.5h3M1288 124.5h2M1290 123.5h4M1294 122.5h4M1298 121.5h4M1302 120.5h4M1306 119.5h4M1310 118.5h4M1314 117.5h4M1318 116.5h4M1322 115.5h4M1326 114.5h4M1330 113.5h6M1336 112.5h8M1344 111.5h8M1352 110.5h8M1360 109.5h6M1366 108.5h4M1370 107.5h6M1376 106.5h16M1392 105.5h16M1408 104.5h6M1414 103.5h4M1418 102.5h6M1424 101.5h8M1432 100.5h6M1438 99.5h4M1442 98.5h4M1446 97.5h4M1450 96.5h6M1456 95.5h6M1462 94.5h4M1466 93.5h4M1470 92.5h4M1474 91.5h6M1480 90.5h6M1486 89.5h4M1490 88.5h6M1496 87.5h5M1501 86.5h3M1504 85.5h2M1506 84.5h4M1510 83.5h4M1514 82.5h6M1520 81.5h8M1528 80.5h46M1574 81.5h4M1578 82.5h6M1584 83.5h6M1590 84.5h4M1594 85.5h6M1600 86.5h16M1616 87.5h8M1624 88.5h8M1632 89.5h8M1640 90.5h8M1648 91.5h8M1656 92.5h11" fill="none" stroke="#ff00ff" stroke-width="1"/>
<path d="M3 498.5h3M6 497.5h4M10 496.5h4M14 495.5h4M18 494.5h6M24 493.5h6M30 492.5h4M34 491.5h4M38 490.5h4M42 489.5h4M46 488.5h4M50 487.5h2M52 486.5h2M54 485.5h2M56 484.5h1M57 483.5h2M59 482.5h2M61 481.5h2M63 480.5h2M65 479.5h2M67 478.5h2M69 477.5h2M71 476.5h2M73 475.5h2M75 474.5h1M76 473.5h2M78 472.5h2M80 471.5h1M81 470.5h2M83 469.5h1M84 468.5h2M86 467.5h2M88 466.5h1M89 465.5h2M91 464.5h1M92 463.5h2M94 462.5h2M96 461.5h1M97 460.5h2M99 459.5h2M101 458.5h2M103 457.5h2M105 456.5h2M107 455.5h2M109 454.5h2M111 453.5h2M113 452.5h2M115 451.5h2M117 450.5h3M120 449.5h2M122 448.5h3M125 447.5h3M128 446.5h2M130 445.5h3M133 444.5h2M135 443.5h2M137 442.5h2M139 441.5h2M141 440.5h2M143 439.5h2M145 438.5h2M147 437.5h2M149 436.5h3M152 435.5h2M154 434.5h3M157 433.5h3M160 432.5h2M162 431.5h3M165 430.5h3M168 429.5h2M170 428.5h6M176 427.5h6M182 426.5h4M186 425.5h3M189 424.5h3M192 423.5h2M194 422.5h4M198 421.5h4M202 420.5h4M206 419.5h4M210 418.5h6M216 417.5h16M232 418.5h16M248 419.5h6M254 420.5h4M258 421.5h6M264 422.5h6M270 423.5h4M274 424.5h4M278 425.5h4M282 426.5h4M286 427.5h4M290 428.5h14M304 429.5h8M312 430.5h16M328 429.5h14M342 428.5h4M346 427.5h4M350 426.5h4M354 425.5h4M358 424.5h4M362 423.5h6M368 422.5h5M373 421.5h3M376 420.5h2M378 419.5h2M380 418.5h2M382 417.5h2M384 416.5h1M385 415.5h2M387 414.5h1M388 413.5h2M390 412.5h2M392 411.5h1M393 410.5h2M395 409.5h1M396 408.5h2M398 407.5h1M399 406.5h1M400 405.5h2M402 404.5h1M403 403.5h2M405 402.5h2M407 401.5h2M409 400.5h2M411 399.5h1M412 398.5h2M414 397.5h2M416 396.5h1M417 395.5h2M419 394.5h1M420 393.5h2M422 392.5h2M424 391.5h1M425 390.5h2M427 389.5h1M428 388.5h2M430 387.5h2M432 386.5h1M433 385.5h2M435 384.5h1M436 383.5h2M438 382.5h1M439 381.5h1M440 380.5h2M442 379.5h1M443 378.5h1M444 377.5h1M445 376.5h1M446 375.5h2M448 374.5h1M449 373.5h1M450 372.5h1M451 371.5h1M452 370.5h1M453 369.5h1M454 368.5h2M456 367.5h1M457 366.5h1M458 365.5h1M459 364.5h1M460 363.5h1M461 362.5h1M462 361.5h2M464 360.5h1M465 359.5h1M466 358.5h1M467 357.5h1M468 356.5h1M469 355.5h1M470 354.5h2M472 353.5h1M473 352.5h1M474 351.5h1M475 350.5h1M476 349.5h1M477 348.5h1M478 347.5h2M480 346.5h1M481 345.5h1M482 344.5h1M483 343.5h1M484 342.5h2M486 341.5h2M488 340.5h1M489 339.5h2M491 338.5h1M492 337.5h2M494 336.5h1M495 335.5h1M496 334.5h2M498 333.5h1M499 332.5h1M500 331.5h1M501 330.5h1M502 329.5h2M504 328.5h1M505 327.5h1M506 326.5h1M507 325.5h2M509 324.5h2M511 323.5h2M513 322.5h2M515 321.5h2M517 320.5h2M519 319.5h2M521 318.5h2M523 317.5h2M525 316.5h3M528 315.5h2M530 314.5h4M534 313.5h4M538 312.5h22M560 311.5h6M566 310.5h4M570 309.5h6M576 308.5h8M584 307.5h24M608 308.5h22M630 309.5h4M634 310.5h4M638 311.5h4M642 312.5h4M646 313.5h4M650 314.5h6M656 315.5h6M662 316.5h4M666 317.5h6M672 318.5h14M686 317.5h4M690 316.5h4M694 315.5h4M698 314.5h3M701 313.5h3M704 312.5h2M706 311.5h3M709 310.5h3M712 309.5h2M714 308.5h2M716 307.5h1M717 306.5h1M718 305.5h2M720 304.5h1M721 303.5h1M722 302.5h1M723 301.5h1M724 300.5h2M726 299.5h2M728 298.5h1M729 297.5h2M731 296.5h2M733 295.5h2M735 294.5h2M737 293.5h2M739 292.5h1M740 291.5h2M742 290.5h1M743 289.5h1M744 288.5h2M746 287.5h1M747 286.5h1M748 285.5h1M749 284.5h1M750 283.5h2M752 282.5h1M753 281.5h1M754 280.5h1M755 279.5h1M756 278.5h1M757 277.5h1M758 276.5h2M760 275.5h1M761 274.5h1M762 273.5h1M763 272.5h1M764 271.5h1M765 270.5h1M766 269.5h1M767 268.5h1M768 267.5h1M769 266.5h1M770 265.5h1M771 264.5h1M772 263.5h1M773 262.5h1M774 261.5h1M775 260.5h1M776 259.5h1M777 258.5h1M778 257.5h1M779 256.5h1M780 255.5h2M782 254.5h2M784 253.5h1M785 252.5h2M787 251.5h1M788 250.5h1M789 249.5h1M790 248.5h2M792 247.5h1M793 246.5h1M794 245.5h1M795 244.5h1M796 243.5h1M797 242.5h1M798 241.5h2M800 240.5h1M801 239.5h1M802 238.5h1M803 237.5h1M804 236.5h2M806 235.5h1M807 234.5h1M808 233.5h2M810 232.5h1M811 231.5h1M812 230.5h2M814 229.5h1M815 228.5h1M816 227.5h2M818 226.5h1M819 225.5h1M820 224.5h2M822 223.5h2M824 222.5h1M825 221.5h2M827 220.5h2M829 219.5h3M832 218.5h2M834 217.5h3M837 216.5h3M840 215.5h2M842 214.5h6M848 213.5h8M856 212.5h4M860 211.5h2M862 210.5h2M864 209.5h1M865 208.5h2M867 207.5h1M868 206.5h2M870 205.5h2M872 204.5h1M873 203.5h2M875 202.5h2M877 201.5h2M879 200.5h2M881 199.5h2M883 198.5h2M885 197.5h2M887 196.5h2M889 195.5h2M891 194.5h3M894 193.5h4M898 192.5h4M902 191.5h4M906 190.5h4M910 189.5h4M914 188.5h6M920 187.5h24M944 186.5h6M950 185.5h4M954 184.5h3M957 183.5h2M959 182.5h2M961 181.5h2M963 180.5h3M966 179.5h4M970 178.5h3M973 177.5h3M976 176.5h2M978 175.5h3M981 174.5h2M983 173.5h2M985 172.5h2M987 171.5h2M989 170.5h2M991 169.5h2M993 168.5h2M995 167.5h1M996 166.5h2M998 165.5h2M1000 164.5h1M1001 163.5h2M1003 162.5h1M1004 161.5h2M1006 160.5h2M1008 159.5h1M1009 158.5h2M1011 157.5h1M1012 156.5h2M1014 155.5h1M1015 154.5h1M1016 153.5h2M1018 152.5h1M1019 151.5h1M1020 150.5h2M1022 149.5h2M1024 148.5h1M1025 147.5h2M1027 146.5h2M1029 145.5h3M1032 144.5h2M1034 143.5h6M1040 142.5h8M1048 141.5h24M1072 140.5h8M1080 139.5h5M1085 138.5h3M1088 137.5h2M1090 136.5h4M1094 135.5h4M1098 134.5h4M1102 133.5h4M1106 132.5h30M1136 131.5h6M1142 130.5h4M1146 129.5h4M1150 128.5h4M1154 127.5h4M1158 126.5h4M1162 125.5h6M1168 124.5h6M1174 123.5h4M1178 122.5h3M1181 121.5h2M1183 120.5h2M1185 119.5h2M1187 118.5h2M1189 117.5h2M1191 116.5h2M1193 115.5h2M1195 114.5h2M1197 113.5h2M1199 112.5h2M1201 111.5h2M1203 110.5h2M1205 109.5h3M1208 108.5h2M1210 107.5h4M1214 106.5h4M1218 105.5h4M1222 104.5h4M1226 103.5h4M1230 102.5h4M1234 101.5h6M1240 100.5h5M1245 99.5h3M1248 98.5h2M1250 97.5h4M1254 96.5h4M1258 95.5h6M1264 94.5h8M1272 93.5h5M1277 92.5h3M1280 91.5h2M1282 90.5h6M1288 89.5h16M1304 90.5h8M1312 89.5h8M1320 88.5h6M1326 87.5h4M1330 86.5h6M1336 85.5h8M1344 84.5h8M1352 85.5h5M1357 86.5h3M1360 87.5h2M1362 88.5h6M1368 89.5h8M1376 90.5h8M1384 91.5h8M1392 90.5h6M1398 89.5h4M1402 88.5h6M1408 87.5h8M1416 86.5h6M1422 85.5h4M1426 84.5h4M1430 83.5h4M1434 82.5h4M1438 81.5h4M1442 80.5h4M1446 79.5h4M1450 78.5h6M1456 77.5h5M1461 76.5h3M1464 75.5h2M1466 74.5h3M1469 73.5h3M1472 72.5h2M1474 71.5h6M1480 70.5h8M1488 69.5h8M1496 70.5h8M1504 69.5h6M1510 68.5h4M1514 67.5h3M1517 66.5h3M1520 65.5h2M1522 64.5h6M1528 63.5h24M1552 64.5h6M1558 65.5h4M1562 66.5h3M1565 67.5h3M1568 68.5h2M1570 69.5h3M1573 70.5h2M1575 71.5h2M1577 72.5h2M1579 73.5h2M1581 74.5h2M1583 75.5h2M1585 76.5h2M1587 77.5h1M1588 78.5h2M1590 79.5h2M1592 80.5h1M1593 81.5h2M1595 82.5h1M1596 83.5h2M1598 84.5h2M1600 85.5h1M1601 86.5h2M1603 87.5h2M1605 88.5h3M1608 89.5h2M1610 90.5h2M1612 91.5h2M1614 92.5h2M1616 93.5h1M1617 94.5h2M1619 95.5h2M1621 96.5h2M1623 97.5h2M1625 98.5h2M1627 99.5h2M1629 100.5h3M1632 101.5h2M1634 102.5h3M1637 103.5h2M1639 104.5h2M1641 105.5h2M1643 106.5h2M1645 107.5h3M1648 108.5h2M1650 109.5h3M1653 110.5h2M1655 111.5h2M1657 112.5h2M1659 113.5h2M1661 114.5h2M1663 115.5h2M1665 116.5h2" fill="none" stroke="#ffa500" stroke-width="1"/>
</g>
<g clip-path="url(#c2)">
<rect x="3" y="576" width="1" height="27" fill="#c0c0c0"/>
<rect x="11" y="573" width="1" height="30" fill="#c0c0c0"/>
<rect x="19" y="570" width="1" height="33" fill="#c0c0c0"/>
<rect x="27" y="570" width="1" height="33" fill="#c0c0c0"/>
<rect x="35" y="571" width="1" height="32" fill="#c0c0c0"/>
<rect x="43" y="572" width="1" height="31" fill="#c0c0c0"/>
<rect x="51" y="572" width="1" height="31" fill="#c0c0c0"/>
<rect x="59" y="572" width="1" height="31" fill="#c0c0c0"/>
<rect x="67" y="570" width="1" height="33" fill="#c0c0c0"/>
<rect x="75" y="568" width="1" height="35" fill="#c0c0c0"/>
<rect x="83" y="560" width="1" height="43" fill="#c0c0c0"/>
<rect x="91" y="555" width="1" height="48" fill="#c0c0c0"/>
<rect x="99" y="552" width="1" height="51" fill="#c0c0c0"/>
<rect x="107" y="549" width="1" height="54" fill="#c0c0c0"/>
<rect x="115" y="548" width="1" height="55" fill="#c0c0c0"/>
<rect x="123" y="549" width="1" height="54" fill="#c0c0c0"/>
<rect x="131" y="552" width="1" height="51" fill="#c0c0c0"/>
<rect x="139" y="551" width="1" height="52" fill="#c0c0c0"/>
<rect x="147" y="551" width="1" height="52" fill="#c0c0c0"/>
<rect x="155" y="553" width="1" height="50" fill="#c0c0c0"/>
<rect x="163" y="556" width="1" height="47" fill="#c0c0c0"/>
<rect x="171" y="558" width="1" height="45" fill="#c0c0c0"/>
<rect x="179" y="564" width="1" height="39" fill="#c0c0c0"/>
<rect x="187" y="565" width="1" height="38" fill="#c0c0c0"/>
<rect x="195" y="568" width="1" height="35" fill="#c0c0c0"/>
<rect x="203" y="572" width="1" height="31" fill="#c0c0c0"/>
<rect x="211" y="576" width="1" height="27" fill="#c0c0c0"/>
<rect x="219" y="582" width="1" height="21" fill="#c0c0c0"/>
<rect x="227" y="591" width="1" height="12" fill="#c0c0c0"/>
<rect x="235" y="596" width="1" height="7" fill="#c0c0c0"/>
<rect x="243" y="598" width="1" height="5" fill="#c0c0c0"/>
<rect x="251" y="601" width="1" height="2" fill="#c0c0c0"/>
<rect x="259" y="602" width="1" height="1" fill="#c0c0c0"/>
<rect x="267" y="600" width="1" height="3" fill="#c0c0c0"/>
<rect x="275" y="600" width="1" height="3" fill="#c0c0c0"/>
<rect x="291" y="601" width="1" height="2" fill="#c0c0c0"/>
<rect x="307" y="600" width="1" height="3" fill="#c0c0c0"/>
<rect x="315" y="597" width="1" height="6" fill="#c0c0c0"/>
<rect x="323" y="594" width="1" height="9" fill="#c0c0c0"/>
<rect x="331" y="589" width="1" height="14" fill="#c0c0c0"/>
<rect x="339" y="584" width="1" height="19" fill="#c0c0c0"/>
<rect x="347" y="581" width="1" height="22" fill="#c0c0c0"/>
<rect x="355" y="576" width="1" height="27" fill="#c0c0c0"/>
<rect x="363" y="573" width="1" height="30" fill="#c0c0c0"/>
<rect x="371" y="573" width="1" height="30" fill="#c0c0c0"/>
<rect x="379" y="565" width="1" height="38" fill="#c0c0c0"/>
<rect x="387" y="560" width="1" height="43" fill="#c0c0c0"/>
<rect x="395" y="556" width="1" height="47" fill="#c0c0c0"/>
<rect x="403" y="553" width="1" height="50" fill="#c0c0c0"/>
<rect x="411" y="550" width="1" height="53" fill="#c0c0c0"/>
<rect x="419" y="550" width="1" height="53" fill="#c0c0c0"/>
<rect x="427" y="547" width="1" height="56" fill="#c0c0c0"/>
<rect x="435" y="544" width="1" height="59" fill="#c0c0c0"/>
<rect x="443" y="542" width="1" height="61" fill="#c0c0c0"/>
<rect x="451" y="536" width="1" height="67" fill="#c0c0c0"/>
<rect x="459" y="531" width="1" height="72" fill="#c0c0c0"/>
<rect x="467" y="530" width="1" height="73" fill="#c0c0c0"/>
<rect x="475" y="527" width="1" height="76" fill="#c0c0c0"/>
<rect x="483" y="525" width="1" height="78" fill="#c0c0c0"/>
<rect x="491" y="524" width="1" height="79" fill="#c0c0c0"/>
<rect x="499" y="524" width="1" height="79" fill="#c0c0c0"/>
<rect x="507" y="524" width="1" height="79" fill="#c0c0c0"/>
<rect x="515" y="527" width="1" height="76" fill="#c0c0c0"/>
<rect x="523" y="537" width="1" height="66" fill="#c0c0c0"/>
<rect x="531" y="547" width="1" height="56" fill="#c0c0c0"/>
<rect x="539" y="558" width="1" height="45" fill="#c0c0c0"/>
<rect x="547" y="569" width="1" height="34" fill="#c0c0c0"/>
<rect x="555" y="576" width="1" height="27" fill="#c0c0c0"/>
<rect x="563" y="579" width="1" height="24" fill="#c0c0c0"/>
<rect x="571" y="579" width="1" height="24" fill="#c0c0c0"/>
<rect x="579" y="583" width="1" height="20" fill="#c0c0c0"/>
<rect x="587" y="585" width="1" height="18" fill="#c0c0c0"/>
<rect x="595" y="587" width="1" height="16" fill="#c0c0c0"/>
<rect x="603" y="587" width="1" height="16" fill="#c0c0c0"/>
<rect x="611" y="592" width="1" height="11" fill="#c0c0c0"/>
<rect x="619" y="586" width="1" height="17" fill="#c0c0c0"/>
<rect x="627" y="587" width="1" height="16" fill="#c0c0c0"/>
<rect x="635" y="587" width="1" height="16" fill="#c0c0c0"/>
<rect x="643" y="588" width="1" height="15" fill="#c0c0c0"/>
<rect x="651" y="590" width="1" height="13" fill="#c0c0c0"/>
<rect x="659" y="593" width="1" height="10" fill="#c0c0c0"/>
<rect x="667" y="591" width="1" height="12" fill="#c0c0c0"/>
<rect x="675" y="585" width="1" height="18" fill="#c0c0c0"/>
<rect x="683" y="582" width="1" height="21" fill="#c0c0c0"/>
<rect x="691" y="578" width="1" height="25" fill="#c0c0c0"/>
<rect x="699" y="577" width="1" height="26" fill="#c0c0c0"/>
<rect x="707" y="576" width="1" height="27" fill="#c0c0c0"/>
<rect x="715" y="574" width="1" height="29" fill="#c0c0c0"/>
<rect x="723" y="559" width="1" height="44" fill="#c0c0c0"/>
<rect x="731" y="550" width="1" height="53" fill="#c0c0c0"/>
<rect x="739" y="544" width="1" height="59" fill="#c0c0c0"/>
<rect x="747" y="537" width="1" height="66" fill="#c0c0c0"/>
<rect x="755" y="532" width="1" height="71" fill="#c0c0c0"/>
<rect x="763" y="525" width="1" height="78" fill="#c0c0c0"/>
<rect x="771" y="518" width="1" height="85" fill="#c0c0c0"/>
<rect x="779" y="513" width="1" height="90" fill="#c0c0c0"/>
<rect x="787" y="512" width="1" height="91" fill="#c0c0c0"/>
<rect x="795" y="512" width="1" height="91" fill="#c0c0c0"/>
<rect x="803" y="513" width="1" height="90" fill="#c0c0c0"/>
<rect x="811" y="521" width="1" height="82" fill="#c0c0c0"/>
<rect x="819" y="530" width="1" height="73" fill="#c0c0c0"/>
<rect x="827" y="540" width="1" height="63" fill="#c0c0c0"/>
<rect x="835" y="549" width="1" height="54" fill="#c0c0c0"/>
<rect x="843" y="558" width="1" height="45" fill="#c0c0c0"/>
<rect x="851" y="569" width="1" height="34" fill="#c0c0c0"/>
<rect x="859" y="578" width="1" height="25" fill="#c0c0c0"/>
<rect x="867" y="575" width="1" height="28" fill="#c0c0c0"/>
<rect x="875" y="568" width="1" height="35" fill="#c0c0c0"/>
<rect x="883" y="564" width="1" height="39" fill="#c0c0c0"/>
<rect x="891" y="558" width="1" height="45" fill="#c0c0c0"/>
<rect x="899" y="553" width="1" height="50" fill="#c0c0c0"/>
<rect x="907" y="554" width="1" height="49" fill="#c0c0c0"/>
<rect x="915" y="552" width="1" height="51" fill="#c0c0c0"/>
<rect x="923" y="553" width="1" height="50" fill="#c0c0c0"/>
<rect x="931" y="555" width="1" height="48" fill="#c0c0c0"/>
<rect x="939" y="556" width="1" height="47" fill="#c0c0c0"/>
<rect x="947" y="552" width="1" height="51" fill="#c0c0c0"/>
<rect x="955" y="548" width="1" height="55" fill="#c0c0c0"/>
<rect x="963" y="541" width="1" height="62" fill="#c0c0c0"/>
<rect x="971" y="539" width="1" height="64" fill="#c0c0c0"/>
<rect x="979" y="541" width="1" height="62" fill="#c0c0c0"/>
<rect x="987" y="543" width="1" height="60" fill="#c0c0c0"/>
<rect x="995" y="546" width="1" height="57" fill="#c0c0c0"/>
<rect x="1003" y="547" width="1" height="56" fill="#c0c0c0"/>
<rect x="1011" y="548" width="1" height="55" fill="#c0c0c0"/>
<rect x="1019" y="551" width="1" height="52" fill="#c0c0c0"/>
<rect x="1027" y="556" width="1" height="47" fill="#c0c0c0"/>
<rect x="1035" y="561" width="1" height="42" fill="#c0c0c0"/>
<rect x="1043" y="566" width="1" height="37" fill="#c0c0c0"/>
<rect x="1051" y="569" width="1" height="34" fill="#c0c0c0"/>
<rect x="1059" y="576" width="1" height="27" fill="#c0c0c0"/>
<rect x="1067" y="577" width="1" height="26" fill="#c0c0c0"/>
<rect x="1075" y="579" width="1" height="24" fill="#c0c0c0"/>
<rect x="1083" y="581" width="1" height="22" fill="#c0c0c0"/>
<rect x="1091" y="580" width="1" height="23" fill="#c0c0c0"/>
<rect x="1099" y="577" width="1" height="26" fill="#c0c0c0"/>
<rect x="1107" y="575" width="1" height="28" fill="#c0c0c0"/>
<rect x="1115" y="576" width="1" height="27" fill="#c0c0c0"/>
<rect x="1123" y="575" width="1" height="28" fill="#c0c0c0"/>
<rect x="1131" y="574" width="1" height="29" fill="#c0c0c0"/>
<rect x="1139" y="571" width="1" height="32" fill="#c0c0c0"/>
<rect x="1147" y="567" width="1" height="36" fill="#c0c0c0"/>
<rect x="1155" y="564" width="1" height="39" fill="#c0c0c0"/>
<rect x="1163" y="563" width="1" height="40" fill="#c0c0c0"/>
<rect x="1171" y="563" width="1" height="40" fill="#c0c0c0"/>
<rect x="1179" y="563" width="1" height="40" fill="#c0c0c0"/>
<rect x="1187" y="560" width="1" height="43" fill="#c0c0c0"/>
<rect x="1195" y="556" width="1" height="47" fill="#c0c0c0"/>
<rect x="1203" y="555" width="1" height="48" fill="#c0c0c0"/>
<rect x="1211" y="554" width="1" height="49" fill="#c0c0c0"/>
<rect x="1219" y="560" width="1" height="43" fill="#c0c0c0"/>
<rect x="1227" y="568" width="1" height="35" fill="#c0c0c0"/>
<rect x="1235" y="574" width="1" height="29" fill="#c0c0c0"/>
<rect x="1243" y="579" width="1" height="24" fill="#c0c0c0"/>
<rect x="1251" y="579" width="1" height="24" fill="#c0c0c0"/>
<rect x="1259" y="580" width="1" height="23" fill="#c0c0c0"/>
<rect x="1267" y="579" width="1" height="24" fill="#c0c0c0"/>
<rect x="1275" y="580" width="1" height="23" fill="#c0c0c0"/>
<rect x="1283" y="580" width="1" height="23" fill="#c0c0c0"/>
<rect x="1291" y="583" width="1" height="20" fill="#c0c0c0"/>
<rect x="1299" y="587" width="1" height="16" fill="#c0c0c0"/>
<rect x="1307" y="591" width="1" height="12" fill="#c0c0c0"/>
<rect x="1315" y="589" width="1" height="14" fill="#c0c0c0"/>
<rect x="1323" y="583" width="1" height="20" fill="#c0c0c0"/>
<rect x="1331" y="579" width="1" height="24" fill="#c0c0c0"/>
<rect x="1339" y="577" width="1" height="26" fill="#c0c0c0"/>
<rect x="1347" y="579" width="1" height="24" fill="#c0c0c0"/>
<rect x="1355" y="582" width="1" height="21" fill="#c0c0c0"/>
<rect x="1363" y="591" width="1" height="12" fill="#c0c0c0"/>
<rect x="1371" y="593" width="1" height="10" fill="#c0c0c0"/>
<rect x="1379" y="594" width="1" height="9" fill="#c0c0c0"/>
<rect x="1387" y="599" width="1" height="4" fill="#c0c0c0"/>
<rect x="1395" y="601" width="1" height="2" fill="#c0c0c0"/>
<rect x="1403" y="597" width="1" height="6" fill="#c0c0c0"/>
<rect x="1411" y="597" width="1" height="6" fill="#c0c0c0"/>
<rect x="1419" y="591" width="1" height="12" fill="#c0c0c0"/>
<rect x="1427" y="587" width="1" height="16" fill="#c0c0c0"/>
<rect x="1435" y="585" width="1" height="18" fill="#c0c0c0"/>
<rect x="1443" y="581" width="1" height="22" fill="#c0c0c0"/>
<rect x="1451" y="577" width="1" height="26" fill="#c0c0c0"/>
<rect x="1459" y="574" width="1" height="29" fill="#c0c0c0"/>
<rect x="1467" y="573" width="1" height="30" fill="#c0c0c0"/>
<rect x="1475" y="575" width="1" height="28" fill="#c0c0c0"/>
<rect x="1483" y="575" width="1" height="28" fill="#c0c0c0"/>
<rect x="1491" y="575" width="1" height="28" fill="#c0c0c0"/>
<rect x="1499" y="578" width="1" height="25" fill="#c0c0c0"/>
<rect x="1507" y="578" width="1" height="25" fill="#c0c0c0"/>
<rect x="1515" y="577" width="1" height="26" fill="#c0c0c0"/>
<rect x="1523" y="575" width="1" height="28" fill="#c0c0c0"/>
<rect x="1531" y="583" width="1" height="20" fill="#c0c0c0"/>
<rect x="1539" y="592" width="1" height="11" fill="#c0c0c0"/>
<rect x="1547" y="599" width="1" height="4" fill="#c0c0c0"/>
<rect x="1555" y="602" width="1" height="6" fill="#c0c0c0"/>
<rect x="1563" y="602" width="1" height="17" fill="#c0c0c0"/>
<rect x="1571" y="602" width="1" height="24" fill="#c0c0c0"/>
<rect x="1579" y="602" width="1" height="40" fill="#c0c0c0"/>
<rect x="1587" y="602" width="1" height="44" fill="#c0c0c0"/>
<rect x="1595" y="602" width="1" height="51" fill="#c0c0c0"/>
<rect x="1603" y="602" width="1" height="53" fill="#c0c0c0"/>
<rect x="1611" y="602" width="1" height="48" fill="#c0c0c0"/>
<rect x="1619" y="602" width="1" height="43" fill="#c0c0c0"/>
<rect x="1627" y="602" width="1" height="39" fill="#c0c0c0"/>
<rect x="1635" y="602" width="1" height="35" fill="#c0c0c0"/>
<rect x="1643" y="602" width="1" height="33" fill="#c0c0c0"/>
<rect x="1651" y="602" width="1" height="31" fill="#c0c0c0"/>
<rect x="1659" y="602" width="1" height="29" fill="#c0c0c0"/>
<rect x="1667" y="602" width="1" height="27" fill="#c0c0c0"/>
<path d="M3 584.5h2M5 583.5h1M9 582.5h1M10 581.5h2M15 580.5h1M16 579.5h2M21 578.5h3M27 577.5h3M33 576.5h1M34 575.5h2M39 575.5h1M40 574.5h2M45 574.5h3M51 573.5h3M57 572.5h3M63 572.5h1M64 571.5h2M69 571.5h1M70 570.5h2M75 569.5h3M81 568.5h3M87 567.5h3M93 566.5h3M99 565.5h2M101 564.5h1M105 563.5h1M106 562.5h2M111 561.5h1M112 560.5h2M117 558.5h3M123 556.5h3M129 555.5h1M130 554.5h2M135 553.5h3M141 552.5h3M147 551.5h3M153 550.5h3M159 550.5h3M165 550.5h3M171 551.5h3M177 552.5h3M183 553.5h3M189 554.5h1M190 555.5h2M195 556.5h2M197 557.5h1M201 558.5h1M202 559.5h2M207 560.5h1M208 561.5h2M213 563.5h3M219 565.5h2M221 566.5h1M225 568.5h2M227 569.5h1M231 571.5h1M232 572.5h1M233 573.5h1M237 575.5h2M239 576.5h1M243 578.5h2M245 579.5h1M249 580.5h1M250 581.5h2M255 583.5h2M257 584.5h1M261 586.5h2M263 587.5h1M267 589.5h2M269 590.5h1M273 591.5h1M274 592.5h2M279 594.5h2M281 595.5h1M285 596.5h1M286 597.5h2M291 598.5h3M297 599.5h3M303 599.5h1M304 600.5h2M309 600.5h3M315 600.5h3M321 599.5h3M327 599.5h1M328 598.5h2M333 598.5h1M334 597.5h2M339 596.5h2M341 595.5h1M345 594.5h1M346 593.5h2M351 592.5h3M357 590.5h2M359 589.5h1M363 587.5h2M365 586.5h1M369 584.5h2M371 583.5h1M375 582.5h1M376 581.5h2M381 579.5h2M383 578.5h1M387 576.5h2M389 575.5h1M393 573.5h2M395 572.5h1M399 570.5h2M401 569.5h1M405 567.5h3M411 565.5h2M413 564.5h1M417 562.5h2M419 561.5h1M423 559.5h2M425 558.5h1M429 556.5h3M435 554.5h2M437 553.5h1M441 552.5h1M442 551.5h2M447 549.5h2M449 548.5h1M453 546.5h3M459 544.5h3M465 543.5h1M466 542.5h2M471 541.5h1M472 540.5h2M477 538.5h3M483 536.5h2M485 535.5h1M489 534.5h1M490 533.5h2M495 532.5h1M496 531.5h2M501 530.5h1M502 529.5h2M507 528.5h3M513 527.5h1M514 526.5h2M519 526.5h1M520 527.5h2M525 527.5h3M531 528.5h2M533 529.5h1M537 531.5h2M539 532.5h1M543 534.5h1M544 535.5h1M545 536.5h1M549 538.5h1M550 539.5h2M555 542.5h1M556 543.5h2M561 546.5h1M562 547.5h1M563 548.5h1M567 551.5h1M568 552.5h2M573 555.5h1M574 556.5h1M575 557.5h1M579 560.5h1M580 561.5h2M585 564.5h1M586 565.5h1M587 566.5h1M591 569.5h1M592 570.5h2M597 573.5h2M599 574.5h1M603 576.5h2M605 577.5h1M609 579.5h2M611 580.5h1M615 581.5h3M621 582.5h1M622 583.5h2M627 584.5h3M633 585.5h3M639 585.5h1M640 586.5h2M645 586.5h3M651 587.5h3M657 588.5h3M663 588.5h3M669 588.5h3M675 587.5h3M681 587.5h3M687 587.5h1M688 586.5h2M693 586.5h3M699 585.5h3M705 584.5h1M706 583.5h2M711 583.5h1M712 582.5h2M717 581.5h2M719 580.5h1M723 578.5h2M725 577.5h1M729 575.5h2M731 574.5h1M735 571.5h1M736 570.5h2M741 567.5h1M742 566.5h1M743 565.5h1M747 562.5h2M749 561.5h1M753 560.5h1M754 559.5h2M759 556.5h1M760 555.5h1M761 554.5h1M765 550.5h1M766 549.5h2M771 545.5h1M772 544.5h1M773 543.5h1M777 540.5h1M778 539.5h1M779 538.5h1M783 535.5h1M784 534.5h2M789 531.5h1M790 530.5h1M791 529.5h1M795 526.5h2M797 525.5h1M801 523.5h2M803 522.5h1M807 521.5h3M813 520.5h3M819 519.5h3M825 519.5h3M831 520.5h1M832 521.5h2M837 523.5h1M838 524.5h2M843 527.5h1M844 528.5h2M849 531.5h1M850 532.5h1M851 533.5h1M855 536.5h1M856 537.5h1M857 538.5h1M861 541.5h1M862 542.5h1M863 543.5h1M867 546.5h1M868 547.5h2M873 550.5h1M874 551.5h1M875 552.5h1M879 555.5h1M880 556.5h2M885 559.5h3M891 561.5h3M897 562.5h1M898 563.5h2M903 563.5h3M909 563.5h3M915 562.5h3M921 561.5h1M922 560.5h2M927 559.5h3M933 558.5h1M934 557.5h2M939 556.5h3M945 555.5h1M946 554.5h2M951 553.5h3M957 552.5h1M958 551.5h2M963 550.5h3M969 549.5h3M975 549.5h1M976 548.5h2M981 548.5h1M982 547.5h2M987 546.5h3M993 545.5h3M999 545.5h3M1005 545.5h3M1011 544.5h3M1017 544.5h3M1023 544.5h1M1024 545.5h2M1029 546.5h3M1035 548.5h3M1041 549.5h1M1042 550.5h2M1047 551.5h1M1048 552.5h2M1053 554.5h3M1059 556.5h2M1061 557.5h1M1065 559.5h2M1067 560.5h1M1071 561.5h1M1072 562.5h2M1077 564.5h2M1079 565.5h1M1083 567.5h2M1085 568.5h1M1089 570.5h2M1091 571.5h1M1095 572.5h3M1101 573.5h1M1102 574.5h2M1107 575.5h3M1113 576.5h3M1119 576.5h3M1125 576.5h3M1131 576.5h3M1137 576.5h3M1143 575.5h3M1149 574.5h1M1150 573.5h2M1155 572.5h3M1161 571.5h3M1167 570.5h3M1173 569.5h1M1174 568.5h2M1179 567.5h3M1185 566.5h1M1186 565.5h2M1191 565.5h1M1192 564.5h2M1197 564.5h1M1198 563.5h2M1203 562.5h3M1209 561.5h1M1210 560.5h2M1215 560.5h1M1216 559.5h2M1221 559.5h3M1227 559.5h3M1233 560.5h3M1239 560.5h1M1240 561.5h2M1245 562.5h3M1251 564.5h3M1257 565.5h1M1258 566.5h2M1263 567.5h1M1264 568.5h2M1269 569.5h1M1270 570.5h2M1275 571.5h3M1281 572.5h1M1282 573.5h2M1287 574.5h1M1288 575.5h2M1293 577.5h3M1299 579.5h3M1305 580.5h1M1306 581.5h2M1311 581.5h1M1312 582.5h2M1317 582.5h3M1323 582.5h3M1329 583.5h3M1335 583.5h1M1336 582.5h2M1341 582.5h3M1347 582.5h3M1353 583.5h3M1359 583.5h3M1365 583.5h3M1371 583.5h3M1377 584.5h3M1383 584.5h1M1384 585.5h2M1389 585.5h1M1390 586.5h2M1395 587.5h3M1401 588.5h1M1402 589.5h2M1407 589.5h1M1408 590.5h2M1413 590.5h1M1414 591.5h2M1419 592.5h3M1425 593.5h3M1431 593.5h3M1437 593.5h1M1438 592.5h2M1443 591.5h3M1449 590.5h1M1450 589.5h2M1455 588.5h3M1461 586.5h3M1467 584.5h2M1469 583.5h1M1473 582.5h1M1474 581.5h2M1479 580.5h3M1485 579.5h1M1486 578.5h2M1491 577.5h3M1497 576.5h3M1503 576.5h1M1504 575.5h2M1509 575.5h3M1515 575.5h3M1521 575.5h3M1527 575.5h1M1528 576.5h2M1533 576.5h1M1534 577.5h2M1539 578.5h3M1545 579.5h1M1546 580.5h2M1551 582.5h2M1553 583.5h1M1557 585.5h2M1559 586.5h1M1563 588.5h1M1564 589.5h2M1569 592.5h1M1570 593.5h1M1571 594.5h1M1575 597.5h1M1576 598.5h1M1577 599.5h1M1581 603.5h1M1582 604.5h2M1587 608.5h1M1588 609.5h1M1589 610.5h1M1592 614.5h1M1593 615.5h1M1594 616.5h1M1598 620.5h1M1599 621.5h1M1600 622.5h1M1604 626.5h1M1605 627.5h1M1606 628.5h1M1610 631.5h1M1611 632.5h1M1612 633.5h1M1616 635.5h1M1617 636.5h2M1622 638.5h1M1623 639.5h2M1628 641.5h1M1629 642.5h2M1634 644.5h3M1640 645.5h3M1646 644.5h3M1652 643.5h3M1658 642.5h3M1664 641.5h2M1666 640.5h1" fill="none" stroke="#ff0000" stroke-width="1"/>
</g>
<g clip-path="url(#c3)">
<line x1="4" y1="711.5" x2="1686" y2="711.5" stroke="#c0c0c0" stroke-width="1" stroke-dasharray="3 3"/>
<line x1="4" y1="769.5" x2="1686" y2="769.5" stroke="#c0c0c0" stroke-width="1" stroke-dasharray="3 3"/>
<path d="M3 719.5h1M4 718.5h2M6 717.5h2M8 716.5h1M9 715.5h2M11 714.5h3M14 713.5h4M18 712.5h2M20 713.5h2M22 714.5h1M23 715.5h1M24 716.5h2M26 717.5h1M27 718.5h1M28 719.5h2M30 720.5h2M32 721.5h1M33 722.5h2M35 723.5h1M36 724.5h2M38 725.5h2M40 726.5h1M41 727.5h2M43 728.5h1M44 727.5h1M45 726.5h1M46 725.5h2M48 724.5h1M49 723.5h1M50 722.5h1M51 721.5h3M54 720.5h4M58 719.5h3M61 718.5h2M63 717.5h2M65 716.5h2M67 715.5h2M69 714.5h2M71 713.5h2M73 712.5h2M75 711.5h1M76.5 709v2M77 708.5h1M78.5 706v2M79 705.5h1M80.5 703v2M81 702.5h1M82.5 700v2M83 699.5h2M85 700.5h2M87 701.5h2M89 702.5h2M91 703.5h13M104 702.5h5M109 703.5h2M111 704.5h2M113 705.5h2M115 706.5h1M116 707.5h2M118 708.5h2M120 709.5h1M121 710.5h2M123 711.5h1M124 712.5h2M126 713.5h2M128 714.5h1M129 715.5h2M131 716.5h1M132 715.5h1M133 714.5h1M134 713.5h2M136 712.5h1M137 711.5h1M138 710.5h1M139 709.5h2M141 710.5h3M144 711.5h2M146 712.5h3M149 713.5h3M152 714.5h2M154 715.5h2M156 716.5h2M158 717.5h2M160 718.5h1M161 719.5h2M163 720.5h3M166 719.5h4M170 718.5h2M171 719.5h1M172.5 720v2M173.5 722v2M174.5 724v2M175.5 726v3M176.5 729v2M177.5 731v2M178.5 733v2M179.5 735v2M180.5 734v2M181 733.5h1M182 732.5h1M183.5 730v2M184 729.5h1M185 728.5h1M186.5 726v2M187 725.5h2M189 726.5h2M191 727.5h2M193 728.5h2M195 729.5h1M196 730.5h2M198 731.5h2M200 732.5h1M201 733.5h2M203 734.5h2M205 735.5h2M207 736.5h2M209 737.5h2M211 738.5h1M212 739.5h2M214 740.5h1M215 741.5h1M216 742.5h2M218 743.5h1M219 744.5h1M220.5 745v2M221.5 747v2M222.5 749v2M223 751.5h1M224.5 752v2M225.5 754v2M226.5 756v2M227 758.5h1M228 757.5h1M229.5 755v2M230 754.5h1M231 753.5h1M232 752.5h1M233.5 750v2M234 749.5h1M235 748.5h1M236 747.5h2M238 746.5h2M240 745.5h1M241 744.5h2M243 743.5h2M245 744.5h2M247 745.5h2M249 746.5h2M251 747.5h1M252 746.5h1M253 745.5h1M254 744.5h2M256 743.5h1M257 742.5h1M258 741.5h1M259 740.5h1M260 739.5h2M262 738.5h1M263 737.5h1M264 736.5h2M266 735.5h1M267 734.5h1M268 735.5h2M270 736.5h2M272 737.5h1M273 738.5h2M275 739.5h1M276 740.5h1M277 741.5h1M278 742.5h1M279 743.5h1M280 744.5h1M281 745.5h1M282 746.5h1M283 747.5h1M284 746.5h2M286 745.5h2M288 744.5h1M289 743.5h2M291 742.5h2M293 741.5h2M295 740.5h2M297 739.5h2M299 738.5h1M300 737.5h1M301 736.5h1M302 735.5h2M304 734.5h1M305 733.5h1M306 732.5h1M307 731.5h10M317 730.5h2M319 729.5h2M321 728.5h2M323 727.5h1M324 726.5h2M326 725.5h2M328 724.5h1M329 723.5h2M331 722.5h2M333 721.5h3M336 720.5h2M338 719.5h4M342 720.5h4M346 721.5h2M348 720.5h1M349 719.5h1M350 718.5h2M352 717.5h1M353 716.5h1M354 715.5h1M355 714.5h2M357 715.5h2M359 716.5h2M361 717.5h2M363 718.5h1M364 719.5h1M365 720.5h1M366 721.5h1M367 722.5h1M368 723.5h1M369 724.5h1M370 725.5h1M371 726.5h1M372.5 724v2M373.5 722v2M374.5 720v2M375.5 718v2M376.5 716v2M377.5 714v2M378.5 712v2M379 711.5h19M398 710.5h4M402 709.5h11M413 710.5h2M415 711.5h2M417 712.5h2M419 713.5h1M420 712.5h1M421 711.5h1M422 710.5h2M424 709.5h1M425 708.5h1M426 707.5h1M427 706.5h3M430 705.5h4M434 704.5h10M444 703.5h1M445 702.5h1M446 701.5h2M448 700.5h1M449 699.5h1M450 698.5h1M451 697.5h5M456 696.5h4M460 697.5h2M462 698.5h1M463 699.5h1M464 700.5h2M466 701.5h1M467 702.5h2M469 701.5h3M472 700.5h2M474 699.5h6M480 698.5h8M488 697.5h8M496 698.5h8M504 697.5h6M510 698.5h4M514 699.5h2M515.5 700v2M516.5 702v5M517.5 707v5M518.5 712v5M519.5 717v4M520.5 721v5M521.5 726v5M522.5 731v5M523.5 736v3M524 738.5h4M528 739.5h4M532 740.5h1M533 741.5h1M534 742.5h2M536 743.5h1M537 744.5h1M538 745.5h1M539 746.5h2M541 747.5h2M543 748.5h2M545 749.5h2M547 750.5h1M548 749.5h1M549 748.5h1M550 747.5h2M552 746.5h1M553 745.5h1M554 744.5h1M555 743.5h1M556 742.5h2M558 741.5h2M560 740.5h1M561 739.5h2M563 738.5h1M564 737.5h1M565 736.5h1M566 735.5h1M567.5 733v2M568 732.5h1M569 731.5h1M570 730.5h1M571 729.5h1M572.5 730v2M573 732.5h1M574 733.5h1M575.5 734v2M576 736.5h1M577 737.5h1M578.5 738v2M579 740.5h3M582 739.5h4M586 738.5h10M596 737.5h2M598 736.5h2M600 735.5h1M601 734.5h2M603 733.5h1M604.5 734v2M605 736.5h1M606.5 737v2M607 739.5h1M608.5 740v2M609 742.5h1M610.5 743v2M611.5 744v2M612.5 742v2M613.5 739v3M614.5 737v2M615.5 734v3M616.5 732v2M617.5 729v3M618.5 727v2M619.5 725v2M620 726.5h1M621.5 727v2M622 729.5h1M623 730.5h1M624 731.5h1M625.5 732v2M626 734.5h1M627 735.5h11M638 736.5h4M642 737.5h3M645 738.5h2M647 739.5h2M649 740.5h2M651 741.5h9M660.5 739v2M661 738.5h1M662 737.5h1M663.5 735v2M664 734.5h1M665 733.5h1M666.5 731v2M667 730.5h1M668 729.5h2M670 728.5h2M672 727.5h1M673 726.5h2M675 725.5h13M688 724.5h5M693 725.5h2M695 726.5h2M697 727.5h2M699 728.5h2M701 727.5h3M704 726.5h2M706 725.5h4M710 724.5h4M714 723.5h2M715 722.5h1M716.5 720v2M717.5 718v2M718.5 715v3M719.5 713v2M720.5 710v3M721.5 708v2M722.5 706v2M723.5 704v2M724 705.5h2M726 706.5h1M727 707.5h1M728 708.5h2M730 709.5h1M731 710.5h10M741 709.5h3M744 708.5h2M746 707.5h6M752 706.5h5M757 705.5h2M759 704.5h2M761 703.5h2M763 702.5h3M766 701.5h4M770 700.5h6M776 699.5h4M780 700.5h1M781 701.5h1M782 702.5h2M784 703.5h1M785 704.5h1M786 705.5h1M787 706.5h5M792 707.5h8M800 706.5h4M803 707.5h1M804.5 708v2M805.5 710v3M806.5 713v3M807.5 716v2M808.5 718v3M809.5 721v3M810.5 724v2M811.5 726v2M812 727.5h1M813 728.5h3M816 729.5h2M818 730.5h2M820 731.5h1M821 732.5h1M822 733.5h1M823 734.5h1M824 735.5h1M825 736.5h1M826 737.5h1M827 738.5h10M837 739.5h3M840 740.5h2M842 741.5h2M844 742.5h1M845 743.5h1M846 744.5h2M848 745.5h1M849 746.5h1M850 747.5h1M851 748.5h5M856 749.5h4M859 748.5h1M860.5 745v3M861.5 742v3M862.5 739v3M863.5 736v3M864.5 733v3M865.5 730v3M866.5 727v3M867.5 725v2M868 724.5h2M870 723.5h2M872 722.5h1M873 721.5h2M875 720.5h10M885 719.5h2M887 718.5h2M889 717.5h2M891 716.5h3M894 715.5h4M898 714.5h2M900.5 715v2M901 717.5h1M902.5 718v2M903 720.5h1M904.5 721v2M905 723.5h1M906.5 724v2M907 726.5h1M908 725.5h2M910 724.5h2M912 723.5h1M913 722.5h2M915 721.5h1M916 722.5h2M918 723.5h1M919 724.5h1M920 725.5h2M922 726.5h1M923 727.5h13M936 726.5h4M940 725.5h1M941.5 723v2M942 722.5h1M943 721.5h1M944 720.5h1M945.5 718v2M946 717.5h1M947 716.5h5M952 715.5h4M956 714.5h2M958 713.5h1M959 712.5h1M960 711.5h2M962 710.5h1M963 709.5h1M964 710.5h1M965 711.5h1M966 712.5h1M967 713.5h1M968 714.5h1M969 715.5h1M970 716.5h1M971 717.5h1M972 718.5h1M973 719.5h1M974 720.5h2M976 721.5h1M977 722.5h1M978 723.5h1M979 724.5h5M984 723.5h6M990 724.5h4M994 725.5h3M997 724.5h3M1000 723.5h2M1002 722.5h11M1013 723.5h2M1015 724.5h2M1017 725.5h2M1019 726.5h1M1020 727.5h2M1022 728.5h1M1023 729.5h1M1024 730.5h2M1026 731.5h1M1027 732.5h11M1038 733.5h4M1042 734.5h6M1048 733.5h4M1052 734.5h1M1053.5 735v2M1054 737.5h1M1055 738.5h1M1056 739.5h1M1057.5 740v2M1058 742.5h1M1059 743.5h1M1060 742.5h1M1061.5 740v2M1062 739.5h1M1063 738.5h1M1064 737.5h1M1065.5 735v2M1066 734.5h1M1067 733.5h5M1072 734.5h8M1080 733.5h4M1084 732.5h2M1086 731.5h1M1087 730.5h1M1088 729.5h2M1090 728.5h1M1091 727.5h1M1092 726.5h2M1094 725.5h2M1096 724.5h1M1097 723.5h2M1099 722.5h5M1104 721.5h4M1108 722.5h1M1109.5 723v2M1110 725.5h1M1111 726.5h1M1112 727.5h1M1113.5 728v2M1114 730.5h1M1115 731.5h1M1116 730.5h1M1117 729.5h1M1118 728.5h2M1120 727.5h1M1121 726.5h1M1122 725.5h1M1123 724.5h5M1128 725.5h4M1132 724.5h2M1134 723.5h1M1135 722.5h1M1136 721.5h2M1138 720.5h1M1139 719.5h1M1140 718.5h2M1142 717.5h2M1144 716.5h1M1145 715.5h2M1147 714.5h5M1152 715.5h5M1157 716.5h3M1160 717.5h2M1162 718.5h4M1166 719.5h4M1170 720.5h4M1174 719.5h4M1178 718.5h2M1180 717.5h1M1181 716.5h1M1182 715.5h2M1184 714.5h1M1185 713.5h1M1186 712.5h1M1187 711.5h1M1188 710.5h2M1190 709.5h2M1192 708.5h1M1193 707.5h2M1195 706.5h1M1196 707.5h1M1197 708.5h1M1198 709.5h1M1199 710.5h1M1200 711.5h1M1201 712.5h1M1202 713.5h1M1203 714.5h3M1206 713.5h4M1210 712.5h2M1211 713.5h1M1212.5 714v3M1213.5 717v3M1214.5 720v3M1215.5 723v2M1216.5 725v3M1217.5 728v3M1218.5 731v3M1219.5 734v2M1220 736.5h1M1221 737.5h1M1222 738.5h2M1224 739.5h1M1225 740.5h1M1226 741.5h1M1227 742.5h5M1232 743.5h5M1237 742.5h3M1240 741.5h2M1242 740.5h2M1244 739.5h1M1245 738.5h1M1246 737.5h1M1247.5 735v2M1248 734.5h1M1249 733.5h1M1250 732.5h1M1251 731.5h5M1256 730.5h6M1262 729.5h4M1266 728.5h4M1270 729.5h4M1274 730.5h4M1278 729.5h4M1282 728.5h2M1284 729.5h1M1285 730.5h1M1286 731.5h1M1287.5 732v2M1288 734.5h1M1289 735.5h1M1290 736.5h1M1291 737.5h1M1292 738.5h1M1293 739.5h1M1294 740.5h1M1295 741.5h1M1296 742.5h1M1297 743.5h1M1298 744.5h1M1299 745.5h5M1304 744.5h4M1307 743.5h1M1308.5 741v2M1309.5 739v2M1310.5 737v2M1311.5 735v2M1312.5 733v2M1313.5 731v2M1314.5 729v2M1315 728.5h1M1316 727.5h1M1317 726.5h1M1318 725.5h1M1319 724.5h1M1320 723.5h1M1321 722.5h1M1322 721.5h1M1323 720.5h5M1328 719.5h5M1333 720.5h2M1335 721.5h2M1337 722.5h2M1339 723.5h1M1340.5 724v2M1341 726.5h1M1342.5 727v2M1343 729.5h1M1344.5 730v2M1345 732.5h1M1346.5 733v2M1347 735.5h3M1350 736.5h4M1354 737.5h2M1355 738.5h1M1356.5 739v2M1357.5 741v2M1358.5 743v2M1359.5 745v2M1360.5 747v2M1361.5 749v2M1362.5 751v2M1363 753.5h1M1364.5 751v2M1365.5 749v2M1366 748.5h1M1367.5 746v2M1368 745.5h1M1369.5 743v2M1370.5 741v2M1371 740.5h9M1380 741.5h1M1381 742.5h1M1382 743.5h2M1384 744.5h1M1385 745.5h1M1386 746.5h1M1387 747.5h2M1389 746.5h2M1391 745.5h2M1393 744.5h2M1395 743.5h1M1396.5 741v2M1397 740.5h1M1398.5 738v2M1399 737.5h1M1400.5 735v2M1401 734.5h1M1402.5 732v2M1403 731.5h1M1404 732.5h1M1405 733.5h1M1406 734.5h2M1408 735.5h1M1409 736.5h1M1410 737.5h1M1411 738.5h1M1412 737.5h1M1413.5 735v2M1414 734.5h1M1415 733.5h1M1416 732.5h1M1417.5 730v2M1418 729.5h1M1419 728.5h5M1424 727.5h5M1429 728.5h2M1431 729.5h2M1433 730.5h2M1435 731.5h1M1436 730.5h2M1438 729.5h1M1439 728.5h1M1440 727.5h2M1442 726.5h1M1443 725.5h11M1454 724.5h4M1458 723.5h3M1461 724.5h3M1464 725.5h2M1466 726.5h2M1468 727.5h1M1469 728.5h1M1470 729.5h1M1471 730.5h1M1472 731.5h1M1473 732.5h1M1474 733.5h1M1475 734.5h2M1477 733.5h3M1480 732.5h2M1482 731.5h4M1486 730.5h4M1490 729.5h2M1492 730.5h1M1493 731.5h1M1494 732.5h1M1495 733.5h1M1496 734.5h1M1497 735.5h1M1498 736.5h1M1499 737.5h1M1500 736.5h1M1501 735.5h1M1502 734.5h2M1504 733.5h1M1505 732.5h1M1506 731.5h1M1507 730.5h2M1509 729.5h3M1512 728.5h2M1514 727.5h10M1523 728.5h1M1524.5 729v2M1525.5 731v2M1526.5 733v3M1527.5 736v2M1528.5 738v3M1529.5 741v2M1530.5 743v2M1531.5 745v2M1532 747.5h1M1533 748.5h1M1534 749.5h2M1536 750.5h1M1537 751.5h1M1538 752.5h1M1539 753.5h3M1542 752.5h4M1546 751.5h2M1548 752.5h1M1549 753.5h1M1550 754.5h1M1551 755.5h1M1552 756.5h1M1553 757.5h1M1554 758.5h1M1555 759.5h1M1556 760.5h2M1558 761.5h2M1560 762.5h1M1561 763.5h2M1563 764.5h5M1568 763.5h4M1572.5 764v2M1573 766.5h1M1574 767.5h1M1575.5 768v2M1576 770.5h1M1577 771.5h1M1578.5 772v2M1579.5 773v2M1580.5 771v2M1581.5 769v2M1582.5 767v2M1583.5 765v2M1584.5 763v2M1585.5 761v2M1586.5 759v2M1587.5 757v2M1588 758.5h2M1590 759.5h2M1592 760.5h1M1593 761.5h2M1595 762.5h1M1596 761.5h2M1598 760.5h2M1600 759.5h1M1601 758.5h2M1603 757.5h1M1604.5 755v2M1605.5 753v2M1606 752.5h1M1607.5 750v2M1608 749.5h1M1609.5 747v2M1610.5 745v2M1611 744.5h5M1616 745.5h14M1630 744.5h4M1634 743.5h4M1638 744.5h4M1642 745.5h3M1645 746.5h3M1648 747.5h2M1650 748.5h4M1654 747.5h4M1658 746.5h9" fill="none" stroke="#1e90ff" stroke-width="1"/>
</g>
<rect x="2" y="2" width="1685" height="1" fill="#000"/>
<rect x="2" y="500" width="1685" height="1" fill="#000"/>
<rect x="2" y="2" width="1" height="499" fill="#000"/>
<rect x="1686" y="2" width="1" height="499" fill="#000"/>
<rect x="2" y="502" width="1685" height="1" fill="#000"/>
<rect x="2" y="663" width="1685" height="1" fill="#000"/>
<rect x="2" y="502" width="1" height="162" fill="#000"/>
<rect x="1686" y="502" width="1" height="162" fill="#000"/>
<rect x="2" y="665" width="1685" height="1" fill="#000"/>
<rect x="2" y="814" width="1685" height="1" fill="#000"/>
<rect x="2" y="665" width="1" height="150" fill="#000"/>
<rect x="1686" y="665" width="1" height="150" fill="#000"/>
<rect x="1686" y="126" width="1" height="1" fill="#778899"/>
<rect x="3" y="49" width="1684" height="2" fill="#ff0000"/>
<rect x="3" y="133" width="1684" height="2" fill="#32cd32"/>
<rect x="3" y="201" width="1684" height="2" fill="#4169e1"/>
<rect x="3" y="268" width="1684" height="2" fill="#4169e1"/>
<rect x="3" y="353" width="1684" height="2" fill="#4169e1"/>
<rect x="1686" y="711" width="1" height="1" fill="#c0c0c0"/>
<rect x="1686" y="769" width="1" height="1" fill="#c0c0c0"/>
<rect x="1687" y="35" width="2" height="1" fill="#000"/>
<rect x="1687" y="68" width="2" height="1" fill="#000"/>
<rect x="1687" y="101" width="2" height="1" fill="#000"/>
<rect x="1687" y="134" width="2" height="1" fill="#000"/>
<rect x="1687" y="167" width="2" height="1" fill="#000"/>
<rect x="1687" y="200" width="2" height="1" fill="#000"/>
<rect x="1687" y="233" width="2" height="1" fill="#000"/>
<rect x="1687" y="266" width="2" height="1" fill="#000"/>
<rect x="1687" y="299" width="2" height="1" fill="#000"/>
<rect x="1687" y="332" width="2" height="1" fill="#000"/>
<rect x="1687" y="365" width="2" height="1" fill="#000"/>
<rect x="1687" y="398" width="2" height="1" fill="#000"/>
<rect x="1687" y="431" width="2" height="1" fill="#000"/>
<rect x="1687" y="464" width="2" height="1" fill="#000"/>
<rect x="1687" y="497" width="2" height="1" fill="#000"/>
<rect x="1687" y="504" width="1" height="1" fill="#000"/>
<rect x="1687" y="602" width="1" height="1" fill="#000"/>
<rect x="1687" y="662" width="1" height="1" fill="#000"/>
<rect x="1687" y="667" width="1" height="1" fill="#000"/>
<rect x="1687" y="813" width="1" height="1" fill="#000"/>
<rect x="3" y="815" width="1" height="3" fill="#000"/>
<rect x="67" y="815" width="1" height="3" fill="#000"/>
<rect x="131" y="815" width="1" height="3" fill="#000"/>
<rect x="195" y="815" width="1" height="3" fill="#000"/>
<rect x="259" y="815" width="1" height="3" fill="#000"/>
<rect x="323" y="815" width="1" height="3" fill="#000"/>
<rect x="387" y="815" width="1" height="3" fill="#000"/>
<rect x="451" y="815" width="1" height="3" fill="#000"/>
<rect x="515" y="815" width="1" height="3" fill="#000"/>
<rect x="579" y="815" width="1" height="3" fill="#000"/>
<rect x="643" y="815" width="1" height="3" fill="#000"/>
<rect x="707" y="815" width="1" height="3" fill="#000"/>
<rect x="771" y="815" width="1" height="3" fill="#000"/>
<rect x="835" y="815" width="1" height="3" fill="#000"/>
<rect x="899" y="815" width="1" height="3" fill="#000"/>
<rect x="963" y="815" width="1" height="3" fill="#000"/>
<rect x="1027" y="815" width="1" height="3" fill="#000"/>
<rect x="1091" y="815" width="1" height="3" fill="#000"/>
<rect x="1155" y="815" width="1" height="3" fill="#000"/>
<rect x="1219" y="815" width="1" height="3" fill="#000"/>
<rect x="1283" y="815" width="1" height="3" fill="#000"/>
<rect x="1347" y="815" width="1" height="3" fill="#000"/>
<rect x="1411" y="815" width="1" height="3" fill="#000"/>
<rect x="1475" y="815" width="1" height="3" fill="#000"/>
<rect x="1539" y="815" width="1" height="3" fill="#000"/>
<rect x="1603" y="815" width="1" height="3" fill="#000"/>
<rect x="1667" y="815" width="1" height="3" fill="#000"/>
<rect x="0" y="835" width="1723" height="1" fill="#e3e3e3"/>
<rect x="0" y="837" width="85" height="1" fill="#000"/>
<rect x="163" y="837" width="1560" height="1" fill="#000"/>
<polygon points="6,9 13,9 9.5,13" fill="#000"/>
</g>
<text transform="translate(1692 39) scale(0.926 1)">86.425</text>
<text transform="translate(1692 72) scale(0.926 1)">85.450</text>
<text transform="translate(1692 105) scale(0.926 1)">84.475</text>
<text transform="translate(1692 171) scale(0.926 1)">82.525</text>
<text transform="translate(1692 237) scale(0.926 1)">80.575</text>
<text transform="translate(1692 303) scale(0.926 1)">78.625</text>
<text transform="translate(1692 336) scale(0.926 1)">77.650</text>
<text transform="translate(1692 369) scale(0.926 1)">76.675</text>
<text transform="translate(1692 402) scale(0.926 1)">75.700</text>
<text transform="translate(1692 435) scale(0.926 1)">74.725</text>
<text transform="translate(1692 468) scale(0.926 1)">73.750</text>
<text transform="translate(1692 501) scale(0.926 1)">72.775</text>
<rect x="1688" y="121" width="35" height="11" fill="#000"/>
<text transform="translate(1692 130) scale(0.926 1)" class="w">83.730</text>
<rect x="1688" y="44" width="35" height="11" fill="#ff0000"/>
<text transform="translate(1692 53) scale(0.926 1)" class="w">86.000</text>
<rect x="1688" y="128" width="35" height="11" fill="#32cd32"/>
<text transform="translate(1692 137) scale(0.926 1)" class="w">83.500</text>
<rect x="1688" y="196" width="35" height="11" fill="#4169e1"/>
<text transform="translate(1692 205) scale(0.926 1)" class="w">81.500</text>
<rect x="1688" y="263" width="35" height="11" fill="#4169e1"/>
<text transform="translate(1692 272) scale(0.926 1)" class="w">79.500</text>
<rect x="1688" y="348" width="35" height="11" fill="#4169e1"/>
<text transform="translate(1692 357) scale(0.926 1)" class="w">77.000</text>
<text transform="translate(1689.5 513) scale(0.926 1)">1.2891</text>
<text transform="translate(1689.5 606) scale(0.926 1)">0.00</text>
<text transform="translate(1689.5 660) scale(0.926 1)">-0.7941</text>
<text transform="translate(1689.5 676) scale(0.926 1)">100</text>
<text transform="translate(1688.4 715) scale(0.926 1)">70</text>
<text transform="translate(1688.4 773) scale(0.926 1)">30</text>
<text transform="translate(1689.5 811) scale(0.926 1)">0</text>
<text transform="translate(17.6 14) scale(0.969 1)">UKOil-,H4</text>
<text transform="translate(65.8 14) scale(0.94 1)">83.740 83.790 83.700 83.730</text>
<text transform="translate(6.7 515) scale(0.949 1)">MACD(12,26,9) -0.3598 -0.4964</text>
<text transform="translate(6.6 678) scale(0.942 1)">RSI(14) 45.8008</text>
<text transform="translate(2.2 827) scale(0.9221 1)">13 Sep 2021</text>
<text transform="translate(66.2 827) scale(0.9244 1)">15 Sep 04:00</text>
<text transform="translate(130.2 827) scale(0.9244 1)">16 Sep 12:00</text>
<text transform="translate(194.2 827) scale(0.9244 1)">17 Sep 20:00</text>
<text transform="translate(258.2 827) scale(0.9244 1)">21 Sep 00:00</text>
<text transform="translate(322.2 827) scale(0.9244 1)">22 Sep 08:00</text>
<text transform="translate(386.2 827) scale(0.9244 1)">23 Sep 16:00</text>
<text transform="translate(450.2 827) scale(0.9244 1)">26 Sep 23:00</text>
<text transform="translate(514.2 827) scale(0.9244 1)">28 Sep 08:00</text>
<text transform="translate(578.2 827) scale(0.9244 1)">29 Sep 16:00</text>
<text transform="translate(642.2 827) scale(0.9478 1)">1 Oct 00:00</text>
<text transform="translate(706.2 827) scale(0.9478 1)">4 Oct 04:00</text>
<text transform="translate(770.2 827) scale(0.9478 1)">5 Oct 12:00</text>
<text transform="translate(834.2 827) scale(0.9478 1)">6 Oct 20:00</text>
<text transform="translate(898.2 827) scale(0.9478 1)">8 Oct 04:00</text>
<text transform="translate(962.2 827) scale(0.9554 1)">11 Oct 08:00</text>
<text transform="translate(1026.2 827) scale(0.9431 1)">12 Oct 16:00</text>
<text transform="translate(1090.2 827) scale(0.9431 1)">14 Oct 00:00</text>
<text transform="translate(1154.2 827) scale(0.9431 1)">15 Oct 08:00</text>
<text transform="translate(1218.2 827) scale(0.9431 1)">18 Oct 12:00</text>
<text transform="translate(1282.2 827) scale(0.9431 1)">19 Oct 20:00</text>
<text transform="translate(1346.2 827) scale(0.9431 1)">21 Oct 04:00</text>
<text transform="translate(1410.2 827) scale(0.9431 1)">22 Oct 12:00</text>
<text transform="translate(1474.2 827) scale(0.9431 1)">25 Oct 16:00</text>
<text transform="translate(1538.2 827) scale(0.9431 1)">27 Oct 04:00</text>
<text transform="translate(1602.2 827) scale(0.9431 1)">28 Oct 12:00</text>
<text transform="translate(1666.2 827) scale(0.9431 1)">29 Oct 20:00</text>
<text x="1210.3" y="437.2" class="note">多空转折点<tspan font-size="36">83.5</tspan></text>
</svg></body></html>
